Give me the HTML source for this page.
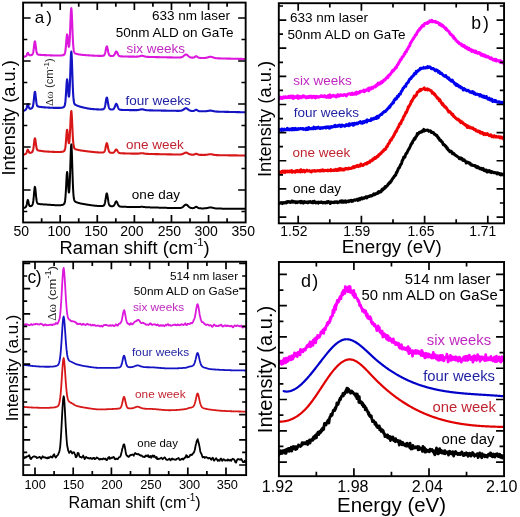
<!DOCTYPE html>
<html><head><meta charset="utf-8"><style>
html,body{margin:0;padding:0;background:#fff;}
svg{display:block;filter:blur(0.35px);}
text{font-family:"Liberation Sans", sans-serif;}
</style></head><body>
<svg width="520" height="517" viewBox="0 0 520 517">
<defs>
<clipPath id="ca"><rect x="23.1" y="2.6" width="222.55" height="219.85"/></clipPath>
<clipPath id="cb"><rect x="278.8" y="3.2" width="225.25" height="220.15"/></clipPath>
<clipPath id="cc"><rect x="23.2" y="261.75" width="222.95" height="213.35"/></clipPath>
<clipPath id="cd"><rect x="278.9" y="262" width="225.15" height="214.2"/></clipPath>
</defs>
<g clip-path="url(#ca)">
<polyline points="23.10,57.04 23.35,56.97 23.60,56.90 23.85,56.83 24.10,56.76 24.35,56.69 24.60,56.61 24.85,56.54 25.10,56.46 25.35,56.38 25.60,56.28 25.85,56.15 26.10,55.96 26.35,55.67 26.60,55.27 26.85,54.74 27.10,54.12 27.35,53.51 27.60,53.06 27.85,52.90 28.10,53.08 28.35,53.50 28.60,54.01 28.85,54.49 29.10,54.86 29.35,55.10 29.60,55.24 29.85,55.29 30.10,55.30 30.35,55.28 30.60,55.24 30.85,55.20 31.10,55.15 31.35,55.09 31.60,55.01 31.85,54.91 32.10,54.76 32.35,54.52 32.60,54.15 32.85,53.56 33.10,52.69 33.35,51.45 33.60,49.83 33.85,47.87 34.10,45.73 34.35,43.68 34.60,42.08 34.85,41.33 35.10,41.63 35.35,42.90 35.60,44.78 35.85,46.89 36.10,48.91 36.35,50.65 36.60,52.00 36.85,52.99 37.10,53.65 37.35,54.07 37.60,54.32 37.85,54.48 38.10,54.58 38.35,54.64 38.60,54.69 38.85,54.73 39.10,54.76 39.35,54.78 39.60,54.81 39.85,54.83 40.10,54.85 40.35,54.87 40.60,54.89 40.85,54.90 41.10,54.92 41.35,54.94 41.60,54.95 41.85,54.97 42.10,54.98 42.35,55.00 42.60,55.01 42.85,55.02 43.10,55.04 43.35,55.05 43.60,55.06 43.85,55.07 44.10,55.08 44.35,55.09 44.60,55.10 44.85,55.11 45.10,55.12 45.35,55.13 45.60,55.14 45.85,55.15 46.10,55.16 46.35,55.17 46.60,55.18 46.85,55.19 47.10,55.20 47.35,55.21 47.60,55.22 47.85,55.23 48.10,55.24 48.35,55.25 48.60,55.26 48.85,55.27 49.10,55.28 49.35,55.30 49.60,55.31 49.85,55.32 50.10,55.33 50.35,55.34 50.60,55.35 50.85,55.36 51.10,55.37 51.35,55.38 51.60,55.39 51.85,55.40 52.10,55.41 52.35,55.42 52.60,55.43 52.85,55.44 53.10,55.45 53.35,55.46 53.60,55.47 53.85,55.48 54.10,55.49 54.35,55.49 54.60,55.50 54.85,55.51 55.10,55.52 55.35,55.52 55.60,55.53 55.85,55.54 56.10,55.54 56.35,55.55 56.60,55.55 56.85,55.55 57.10,55.56 57.35,55.56 57.60,55.56 57.85,55.56 58.10,55.56 58.35,55.56 58.60,55.56 58.85,55.56 59.10,55.55 59.35,55.55 59.60,55.54 59.85,55.53 60.10,55.52 60.35,55.51 60.60,55.50 60.85,55.48 61.10,55.47 61.35,55.44 61.60,55.42 61.85,55.40 62.10,55.36 62.35,55.33 62.60,55.28 62.85,55.23 63.10,55.17 63.35,55.09 63.60,55.00 63.85,54.88 64.10,54.71 64.35,54.45 64.60,54.06 64.85,53.45 65.10,52.50 65.35,51.10 65.60,49.15 65.85,46.64 66.10,43.67 66.35,40.48 66.60,37.51 66.85,35.30 67.10,34.40 67.35,35.02 67.60,36.93 67.85,39.55 68.10,42.29 68.35,44.65 68.60,46.27 68.85,46.89 69.10,46.33 69.35,44.47 69.60,41.25 69.85,36.72 70.10,31.06 70.35,24.70 70.60,18.29 70.85,12.73 71.10,9.07 71.35,8.16 71.60,10.26 71.85,14.82 72.10,20.88 72.35,27.42 72.60,33.68 72.85,39.14 73.10,43.54 73.35,46.85 73.60,49.19 73.85,50.77 74.10,51.79 74.35,52.44 74.60,52.85 74.85,53.12 75.10,53.31 75.35,53.46 75.60,53.57 75.85,53.67 76.10,53.76 76.35,53.84 76.60,53.91 76.85,53.97 77.10,54.03 77.35,54.09 77.60,54.15 77.85,54.20 78.10,54.25 78.35,54.30 78.60,54.34 78.85,54.39 79.10,54.43 79.35,54.47 79.60,54.51 79.85,54.55 80.10,54.59 80.35,54.62 80.60,54.66 80.85,54.69 81.10,54.72 81.35,54.75 81.60,54.78 81.85,54.80 82.10,54.83 82.35,54.85 82.60,54.87 82.85,54.89 83.10,54.92 83.35,54.94 83.60,54.96 83.85,54.98 84.10,55.00 84.35,55.02 84.60,55.04 84.85,55.06 85.10,55.08 85.35,55.10 85.60,55.12 85.85,55.14 86.10,55.16 86.35,55.18 86.60,55.19 86.85,55.21 87.10,55.23 87.35,55.25 87.60,55.27 87.85,55.28 88.10,55.30 88.35,55.32 88.60,55.34 88.85,55.35 89.10,55.37 89.35,55.39 89.60,55.40 89.85,55.42 90.10,55.44 90.35,55.45 90.60,55.47 90.85,55.49 91.10,55.50 91.35,55.52 91.60,55.53 91.85,55.55 92.10,55.56 92.35,55.58 92.60,55.59 92.85,55.60 93.10,55.62 93.35,55.63 93.60,55.65 93.85,55.66 94.10,55.67 94.35,55.68 94.60,55.70 94.85,55.71 95.10,55.72 95.35,55.73 95.60,55.74 95.85,55.76 96.10,55.77 96.35,55.78 96.60,55.79 96.85,55.80 97.10,55.81 97.35,55.81 97.60,55.82 97.85,55.83 98.10,55.84 98.35,55.85 98.60,55.85 98.85,55.86 99.10,55.86 99.35,55.87 99.60,55.87 99.85,55.87 100.10,55.88 100.35,55.88 100.60,55.88 100.85,55.88 101.10,55.88 101.35,55.87 101.60,55.87 101.85,55.86 102.10,55.85 102.35,55.84 102.60,55.82 102.85,55.80 103.10,55.76 103.35,55.70 103.60,55.61 103.85,55.47 104.10,55.26 104.35,54.93 104.60,54.46 104.85,53.81 105.10,52.97 105.35,51.94 105.60,50.75 105.85,49.49 106.10,48.26 106.35,47.23 106.60,46.57 106.85,46.41 107.10,46.79 107.35,47.63 107.60,48.77 107.85,50.04 108.10,51.30 108.35,52.44 108.60,53.41 108.85,54.18 109.10,54.76 109.35,55.18 109.60,55.46 109.85,55.65 110.10,55.78 110.35,55.86 110.60,55.92 110.85,55.95 111.10,55.98 111.35,56.00 111.60,56.01 111.85,56.02 112.10,56.01 112.35,56.00 112.60,55.98 112.85,55.93 113.10,55.86 113.35,55.74 113.60,55.58 113.85,55.36 114.10,55.07 114.35,54.71 114.60,54.27 114.85,53.77 115.10,53.24 115.35,52.70 115.60,52.21 115.85,51.81 116.10,51.56 116.35,51.51 116.60,51.65 116.85,51.98 117.10,52.44 117.35,52.98 117.60,53.53 117.85,54.07 118.10,54.56 118.35,54.99 118.60,55.34 118.85,55.62 119.10,55.83 119.35,55.99 119.60,56.10 119.85,56.18 120.10,56.24 120.35,56.28 120.60,56.31 120.85,56.34 121.10,56.36 121.35,56.37 121.60,56.39 121.85,56.40 122.10,56.41 122.35,56.42 122.60,56.43 122.85,56.44 123.10,56.45 123.35,56.46 123.60,56.47 123.85,56.48 124.10,56.48 124.35,56.49 124.60,56.50 124.85,56.50 125.10,56.51 125.35,56.52 125.60,56.52 125.85,56.53 126.10,56.53 126.35,56.54 126.60,56.55 126.85,56.55 127.10,56.56 127.35,56.56 127.60,56.57 127.85,56.57 128.10,56.58 128.35,56.58 128.60,56.59 128.85,56.59 129.10,56.60 129.35,56.60 129.60,56.60 129.85,56.61 130.10,56.61 130.35,56.62 130.60,56.62 130.85,56.63 131.10,56.63 131.35,56.63 131.60,56.64 131.85,56.64 132.10,56.65 132.35,56.65 132.60,56.65 132.85,56.66 133.10,56.66 133.35,56.66 133.60,56.67 133.85,56.67 134.10,56.67 134.35,56.67 134.60,56.68 134.85,56.68 135.10,56.68 135.35,56.68 135.60,56.68 135.85,56.68 136.10,56.68 136.35,56.67 136.60,56.66 136.85,56.65 137.10,56.64 137.35,56.62 137.60,56.60 137.85,56.58 138.10,56.55 138.35,56.51 138.60,56.47 138.85,56.42 139.10,56.37 139.35,56.31 139.60,56.25 139.85,56.18 140.10,56.12 140.35,56.05 140.60,55.99 140.85,55.93 141.10,55.88 141.35,55.84 141.60,55.81 141.85,55.80 142.10,55.80 142.35,55.82 142.60,55.86 142.85,55.90 143.10,55.96 143.35,56.02 143.60,56.10 143.85,56.17 144.10,56.24 144.35,56.32 144.60,56.39 144.85,56.46 145.10,56.52 145.35,56.58 145.60,56.63 145.85,56.68 146.10,56.72 146.35,56.75 146.60,56.79 146.85,56.81 147.10,56.84 147.35,56.85 147.60,56.87 147.85,56.89 148.10,56.90 148.35,56.91 148.60,56.92 148.85,56.93 149.10,56.94 149.35,56.94 149.60,56.95 149.85,56.96 150.10,56.97 150.35,56.97 150.60,56.98 150.85,56.98 151.10,56.99 151.35,57.00 151.60,57.00 151.85,57.01 152.10,57.01 152.35,57.02 152.60,57.03 152.85,57.03 153.10,57.04 153.35,57.04 153.60,57.05 153.85,57.05 154.10,57.06 154.35,57.06 154.60,57.07 154.85,57.08 155.10,57.08 155.35,57.09 155.60,57.09 155.85,57.10 156.10,57.10 156.35,57.11 156.60,57.11 156.85,57.12 157.10,57.12 157.35,57.13 157.60,57.13 157.85,57.14 158.10,57.14 158.35,57.15 158.60,57.16 158.85,57.16 159.10,57.17 159.35,57.17 159.60,57.18 159.85,57.18 160.10,57.19 160.35,57.19 160.60,57.20 160.85,57.20 161.10,57.21 161.35,57.21 161.60,57.22 161.85,57.22 162.10,57.23 162.35,57.23 162.60,57.24 162.85,57.24 163.10,57.25 163.35,57.25 163.60,57.26 163.85,57.26 164.10,57.27 164.35,57.27 164.60,57.28 164.85,57.28 165.10,57.29 165.35,57.29 165.60,57.30 165.85,57.30 166.10,57.31 166.35,57.31 166.60,57.32 166.85,57.32 167.10,57.33 167.35,57.33 167.60,57.34 167.85,57.34 168.10,57.35 168.35,57.35 168.60,57.35 168.85,57.36 169.10,57.36 169.35,57.37 169.60,57.37 169.85,57.38 170.10,57.38 170.35,57.39 170.60,57.39 170.85,57.40 171.10,57.40 171.35,57.41 171.60,57.41 171.85,57.41 172.10,57.42 172.35,57.42 172.60,57.43 172.85,57.43 173.10,57.44 173.35,57.44 173.60,57.44 173.85,57.45 174.10,57.45 174.35,57.45 174.60,57.46 174.85,57.46 175.10,57.46 175.35,57.47 175.60,57.47 175.85,57.47 176.10,57.48 176.35,57.48 176.60,57.48 176.85,57.48 177.10,57.49 177.35,57.49 177.60,57.49 177.85,57.49 178.10,57.49 178.35,57.49 178.60,57.49 178.85,57.49 179.10,57.48 179.35,57.47 179.60,57.46 179.85,57.45 180.10,57.43 180.35,57.41 180.60,57.38 180.85,57.34 181.10,57.29 181.35,57.23 181.60,57.16 181.85,57.07 182.10,56.97 182.35,56.84 182.60,56.70 182.85,56.55 183.10,56.37 183.35,56.18 183.60,55.98 183.85,55.77 184.10,55.56 184.35,55.34 184.60,55.14 184.85,54.95 185.10,54.78 185.35,54.65 185.60,54.56 185.85,54.51 186.10,54.51 186.35,54.55 186.60,54.65 186.85,54.79 187.10,54.95 187.35,55.15 187.60,55.36 187.85,55.58 188.10,55.81 188.35,56.03 188.60,56.24 188.85,56.44 189.10,56.63 189.35,56.80 189.60,56.95 189.85,57.08 190.10,57.20 190.35,57.30 190.60,57.38 190.85,57.45 191.10,57.51 191.35,57.56 191.60,57.59 191.85,57.62 192.10,57.64 192.35,57.66 192.60,57.66 192.85,57.65 193.10,57.63 193.35,57.60 193.60,57.54 193.85,57.46 194.10,57.35 194.35,57.22 194.60,57.07 194.85,56.89 195.10,56.71 195.35,56.53 195.60,56.37 195.85,56.26 196.10,56.20 196.35,56.22 196.60,56.30 196.85,56.44 197.10,56.62 197.35,56.81 197.60,57.01 197.85,57.19 198.10,57.36 198.35,57.50 198.60,57.62 198.85,57.71 199.10,57.78 199.35,57.83 199.60,57.87 199.85,57.89 200.10,57.91 200.35,57.93 200.60,57.94 200.85,57.95 201.10,57.96 201.35,57.97 201.60,57.97 201.85,57.98 202.10,57.98 202.35,57.99 202.60,57.99 202.85,57.99 203.10,57.99 203.35,57.99 203.60,57.99 203.85,57.98 204.10,57.98 204.35,57.97 204.60,57.95 204.85,57.93 205.10,57.91 205.35,57.89 205.60,57.86 205.85,57.82 206.10,57.78 206.35,57.73 206.60,57.68 206.85,57.62 207.10,57.56 207.35,57.49 207.60,57.42 207.85,57.35 208.10,57.27 208.35,57.20 208.60,57.12 208.85,57.05 209.10,56.98 209.35,56.92 209.60,56.87 209.85,56.84 210.10,56.81 210.35,56.80 210.60,56.80 210.85,56.82 211.10,56.86 211.35,56.90 211.60,56.96 211.85,57.03 212.10,57.11 212.35,57.19 212.60,57.28 212.85,57.36 213.10,57.45 213.35,57.54 213.60,57.62 213.85,57.70 214.10,57.77 214.35,57.84 214.60,57.91 214.85,57.97 215.10,58.02 215.35,58.07 215.60,58.11 215.85,58.15 216.10,58.19 216.35,58.22 216.60,58.24 216.85,58.26 217.10,58.28 217.35,58.30 217.60,58.32 217.85,58.33 218.10,58.34 218.35,58.36 218.60,58.37 218.85,58.38 219.10,58.38 219.35,58.39 219.60,58.40 219.85,58.41 220.10,58.42 220.35,58.42 220.60,58.43 220.85,58.44 221.10,58.44 221.35,58.45 221.60,58.46 221.85,58.46 222.10,58.47 222.35,58.48 222.60,58.48 222.85,58.49 223.10,58.49 223.35,58.50 223.60,58.51 223.85,58.51 224.10,58.52 224.35,58.52 224.60,58.53 224.85,58.54 225.10,58.54 225.35,58.55 225.60,58.55 225.85,58.56 226.10,58.57 226.35,58.57 226.60,58.58 226.85,58.58 227.10,58.59 227.35,58.59 227.60,58.60 227.85,58.61 228.10,58.61 228.35,58.62 228.60,58.62 228.85,58.63 229.10,58.63 229.35,58.64 229.60,58.65 229.85,58.65 230.10,58.66 230.35,58.66 230.60,58.67 230.85,58.67 231.10,58.68 231.35,58.68 231.60,58.69 231.85,58.70 232.10,58.70 232.35,58.71 232.60,58.71 232.85,58.72 233.10,58.72 233.35,58.73 233.60,58.73 233.85,58.74 234.10,58.74 234.35,58.75 234.60,58.76 234.85,58.76 235.10,58.77 235.35,58.77 235.60,58.78 235.85,58.78 236.10,58.79 236.35,58.79 236.60,58.80 236.85,58.81 237.10,58.81 237.35,58.82 237.60,58.82 237.85,58.83 238.10,58.83 238.35,58.84 238.60,58.84 238.85,58.85 239.10,58.85 239.35,58.86 239.60,58.87 239.85,58.87 240.10,58.88 240.35,58.88 240.60,58.89 240.85,58.89 241.10,58.90 241.35,58.90 241.60,58.91 241.85,58.91 242.10,58.92 242.35,58.93 242.60,58.93 242.85,58.94 243.10,58.94 243.35,58.95 243.60,58.95 243.85,58.96 244.10,58.96 244.35,58.97 244.60,58.97 244.85,58.98 245.10,58.99 245.35,58.99 245.60,59.00" fill="none" stroke="#DC18DC" stroke-width="2.1" stroke-linejoin="round" stroke-linecap="round"/>
<polyline points="23.10,111.09 23.35,110.97 23.60,110.84 23.85,110.72 24.10,110.59 24.35,110.47 24.60,110.34 24.85,110.22 25.10,110.09 25.35,109.95 25.60,109.79 25.85,109.57 26.10,109.25 26.35,108.76 26.60,108.07 26.85,107.15 27.10,106.08 27.35,105.03 27.60,104.25 27.85,104.00 28.10,104.38 28.35,105.20 28.60,106.17 28.85,107.08 29.10,107.80 29.35,108.29 29.60,108.57 29.85,108.70 30.10,108.75 30.35,108.73 30.60,108.69 30.85,108.63 31.10,108.55 31.35,108.45 31.60,108.33 31.85,108.16 32.10,107.94 32.35,107.62 32.60,107.13 32.85,106.39 33.10,105.32 33.35,103.83 33.60,101.89 33.85,99.57 34.10,97.03 34.35,94.59 34.60,92.68 34.85,91.74 35.10,92.03 35.35,93.42 35.60,95.54 35.85,97.91 36.10,100.19 36.35,102.14 36.60,103.66 36.85,104.76 37.10,105.49 37.35,105.95 37.60,106.22 37.85,106.40 38.10,106.51 38.35,106.58 38.60,106.64 38.85,106.69 39.10,106.73 39.35,106.77 39.60,106.80 39.85,106.84 40.10,106.87 40.35,106.91 40.60,106.94 40.85,106.97 41.10,107.00 41.35,107.03 41.60,107.06 41.85,107.10 42.10,107.13 42.35,107.15 42.60,107.18 42.85,107.21 43.10,107.24 43.35,107.26 43.60,107.29 43.85,107.31 44.10,107.34 44.35,107.36 44.60,107.38 44.85,107.39 45.10,107.41 45.35,107.42 45.60,107.44 45.85,107.45 46.10,107.47 46.35,107.48 46.60,107.50 46.85,107.51 47.10,107.53 47.35,107.54 47.60,107.55 47.85,107.57 48.10,107.58 48.35,107.60 48.60,107.61 48.85,107.62 49.10,107.64 49.35,107.65 49.60,107.66 49.85,107.68 50.10,107.69 50.35,107.70 50.60,107.71 50.85,107.73 51.10,107.74 51.35,107.75 51.60,107.76 51.85,107.77 52.10,107.78 52.35,107.80 52.60,107.81 52.85,107.82 53.10,107.83 53.35,107.84 53.60,107.84 53.85,107.85 54.10,107.86 54.35,107.87 54.60,107.88 54.85,107.88 55.10,107.89 55.35,107.90 55.60,107.90 55.85,107.91 56.10,107.91 56.35,107.91 56.60,107.92 56.85,107.92 57.10,107.92 57.35,107.92 57.60,107.92 57.85,107.92 58.10,107.92 58.35,107.92 58.60,107.91 58.85,107.91 59.10,107.90 59.35,107.89 59.60,107.88 59.85,107.87 60.10,107.86 60.35,107.84 60.60,107.82 60.85,107.80 61.10,107.78 61.35,107.75 61.60,107.72 61.85,107.69 62.10,107.65 62.35,107.60 62.60,107.54 62.85,107.47 63.10,107.38 63.35,107.28 63.60,107.15 63.85,106.98 64.10,106.75 64.35,106.41 64.60,105.88 64.85,105.05 65.10,103.77 65.35,101.88 65.60,99.26 65.85,95.87 66.10,91.87 66.35,87.58 66.60,83.58 66.85,80.61 67.10,79.40 67.35,80.25 67.60,82.82 67.85,86.37 68.10,90.10 68.35,93.35 68.60,95.65 68.85,96.68 69.10,96.22 69.35,94.16 69.60,90.46 69.85,85.16 70.10,78.53 70.35,71.05 70.60,63.51 70.85,56.96 71.10,52.65 71.35,51.57 71.60,54.03 71.85,59.38 72.10,66.50 72.35,74.19 72.60,81.54 72.85,87.95 73.10,93.11 73.35,97.00 73.60,99.75 73.85,101.61 74.10,102.80 74.35,103.56 74.60,104.05 74.85,104.36 75.10,104.59 75.35,104.76 75.60,104.91 75.85,105.04 76.10,105.15 76.35,105.26 76.60,105.37 76.85,105.47 77.10,105.57 77.35,105.66 77.60,105.76 77.85,105.85 78.10,105.95 78.35,106.04 78.60,106.13 78.85,106.22 79.10,106.31 79.35,106.39 79.60,106.48 79.85,106.56 80.10,106.65 80.35,106.73 80.60,106.80 80.85,106.88 81.10,106.95 81.35,107.02 81.60,107.08 81.85,107.14 82.10,107.20 82.35,107.26 82.60,107.31 82.85,107.37 83.10,107.43 83.35,107.48 83.60,107.54 83.85,107.60 84.10,107.65 84.35,107.71 84.60,107.77 84.85,107.82 85.10,107.88 85.35,107.93 85.60,107.99 85.85,108.04 86.10,108.09 86.35,108.15 86.60,108.20 86.85,108.25 87.10,108.30 87.35,108.35 87.60,108.40 87.85,108.44 88.10,108.49 88.35,108.53 88.60,108.58 88.85,108.62 89.10,108.66 89.35,108.70 89.60,108.73 89.85,108.77 90.10,108.80 90.35,108.83 90.60,108.86 90.85,108.89 91.10,108.92 91.35,108.94 91.60,108.97 91.85,108.99 92.10,109.01 92.35,109.04 92.60,109.06 92.85,109.08 93.10,109.10 93.35,109.12 93.60,109.14 93.85,109.16 94.10,109.18 94.35,109.20 94.60,109.22 94.85,109.24 95.10,109.25 95.35,109.27 95.60,109.29 95.85,109.30 96.10,109.32 96.35,109.33 96.60,109.35 96.85,109.36 97.10,109.37 97.35,109.38 97.60,109.39 97.85,109.40 98.10,109.41 98.35,109.42 98.60,109.43 98.85,109.43 99.10,109.44 99.35,109.44 99.60,109.44 99.85,109.44 100.10,109.45 100.35,109.44 100.60,109.44 100.85,109.44 101.10,109.43 101.35,109.43 101.60,109.42 101.85,109.41 102.10,109.40 102.35,109.38 102.60,109.35 102.85,109.32 103.10,109.27 103.35,109.20 103.60,109.08 103.85,108.90 104.10,108.63 104.35,108.22 104.60,107.63 104.85,106.81 105.10,105.76 105.35,104.46 105.60,102.97 105.85,101.38 106.10,99.84 106.35,98.55 106.60,97.72 106.85,97.51 107.10,97.99 107.35,99.04 107.60,100.47 107.85,102.05 108.10,103.63 108.35,105.06 108.60,106.27 108.85,107.23 109.10,107.96 109.35,108.48 109.60,108.84 109.85,109.07 110.10,109.23 110.35,109.33 110.60,109.40 110.85,109.44 111.10,109.47 111.35,109.49 111.60,109.50 111.85,109.51 112.10,109.50 112.35,109.49 112.60,109.45 112.85,109.39 113.10,109.29 113.35,109.15 113.60,108.95 113.85,108.67 114.10,108.30 114.35,107.84 114.60,107.29 114.85,106.67 115.10,105.99 115.35,105.32 115.60,104.69 115.85,104.19 116.10,103.88 116.35,103.81 116.60,103.99 116.85,104.40 117.10,104.97 117.35,105.64 117.60,106.34 117.85,107.01 118.10,107.62 118.35,108.15 118.60,108.59 118.85,108.94 119.10,109.20 119.35,109.40 119.60,109.54 119.85,109.64 120.10,109.71 120.35,109.76 120.60,109.80 120.85,109.83 121.10,109.85 121.35,109.87 121.60,109.88 121.85,109.90 122.10,109.91 122.35,109.92 122.60,109.93 122.85,109.94 123.10,109.95 123.35,109.96 123.60,109.96 123.85,109.97 124.10,109.98 124.35,109.99 124.60,109.99 124.85,110.00 125.10,110.00 125.35,110.01 125.60,110.02 125.85,110.02 126.10,110.03 126.35,110.03 126.60,110.04 126.85,110.04 127.10,110.04 127.35,110.05 127.60,110.05 127.85,110.06 128.10,110.06 128.35,110.06 128.60,110.07 128.85,110.07 129.10,110.08 129.35,110.08 129.60,110.08 129.85,110.09 130.10,110.09 130.35,110.09 130.60,110.10 130.85,110.10 131.10,110.10 131.35,110.11 131.60,110.11 131.85,110.11 132.10,110.11 132.35,110.12 132.60,110.12 132.85,110.12 133.10,110.12 133.35,110.13 133.60,110.13 133.85,110.13 134.10,110.13 134.35,110.13 134.60,110.14 134.85,110.14 135.10,110.14 135.35,110.14 135.60,110.14 135.85,110.13 136.10,110.13 136.35,110.12 136.60,110.12 136.85,110.11 137.10,110.09 137.35,110.08 137.60,110.06 137.85,110.03 138.10,110.00 138.35,109.97 138.60,109.93 138.85,109.89 139.10,109.84 139.35,109.78 139.60,109.72 139.85,109.66 140.10,109.60 140.35,109.54 140.60,109.48 140.85,109.42 141.10,109.38 141.35,109.34 141.60,109.31 141.85,109.30 142.10,109.30 142.35,109.32 142.60,109.35 142.85,109.39 143.10,109.44 143.35,109.51 143.60,109.57 143.85,109.64 144.10,109.71 144.35,109.78 144.60,109.84 144.85,109.90 145.10,109.96 145.35,110.02 145.60,110.06 145.85,110.11 146.10,110.14 146.35,110.18 146.60,110.20 146.85,110.23 147.10,110.25 147.35,110.27 147.60,110.28 147.85,110.30 148.10,110.31 148.35,110.32 148.60,110.32 148.85,110.33 149.10,110.34 149.35,110.35 149.60,110.35 149.85,110.36 150.10,110.37 150.35,110.37 150.60,110.38 150.85,110.38 151.10,110.39 151.35,110.39 151.60,110.40 151.85,110.40 152.10,110.41 152.35,110.41 152.60,110.42 152.85,110.42 153.10,110.43 153.35,110.43 153.60,110.44 153.85,110.44 154.10,110.45 154.35,110.45 154.60,110.46 154.85,110.46 155.10,110.47 155.35,110.47 155.60,110.48 155.85,110.48 156.10,110.49 156.35,110.49 156.60,110.50 156.85,110.50 157.10,110.50 157.35,110.51 157.60,110.51 157.85,110.52 158.10,110.52 158.35,110.53 158.60,110.53 158.85,110.54 159.10,110.54 159.35,110.55 159.60,110.55 159.85,110.56 160.10,110.56 160.35,110.56 160.60,110.57 160.85,110.57 161.10,110.58 161.35,110.58 161.60,110.59 161.85,110.59 162.10,110.60 162.35,110.60 162.60,110.60 162.85,110.61 163.10,110.61 163.35,110.62 163.60,110.62 163.85,110.63 164.10,110.63 164.35,110.64 164.60,110.64 164.85,110.64 165.10,110.65 165.35,110.65 165.60,110.66 165.85,110.66 166.10,110.67 166.35,110.67 166.60,110.68 166.85,110.68 167.10,110.68 167.35,110.69 167.60,110.69 167.85,110.70 168.10,110.70 168.35,110.71 168.60,110.71 168.85,110.71 169.10,110.72 169.35,110.72 169.60,110.73 169.85,110.73 170.10,110.73 170.35,110.74 170.60,110.74 170.85,110.75 171.10,110.75 171.35,110.76 171.60,110.76 171.85,110.76 172.10,110.77 172.35,110.77 172.60,110.77 172.85,110.78 173.10,110.78 173.35,110.79 173.60,110.79 173.85,110.79 174.10,110.80 174.35,110.80 174.60,110.80 174.85,110.81 175.10,110.81 175.35,110.81 175.60,110.82 175.85,110.82 176.10,110.82 176.35,110.82 176.60,110.83 176.85,110.83 177.10,110.83 177.35,110.83 177.60,110.83 177.85,110.83 178.10,110.83 178.35,110.83 178.60,110.83 178.85,110.83 179.10,110.83 179.35,110.82 179.60,110.81 179.85,110.80 180.10,110.79 180.35,110.76 180.60,110.74 180.85,110.70 181.10,110.66 181.35,110.61 181.60,110.54 181.85,110.47 182.10,110.37 182.35,110.27 182.60,110.14 182.85,110.00 183.10,109.85 183.35,109.68 183.60,109.51 183.85,109.32 184.10,109.13 184.35,108.94 184.60,108.76 184.85,108.59 185.10,108.45 185.35,108.33 185.60,108.25 185.85,108.21 186.10,108.21 186.35,108.25 186.60,108.33 186.85,108.45 187.10,108.60 187.35,108.77 187.60,108.96 187.85,109.16 188.10,109.36 188.35,109.55 188.60,109.74 188.85,109.92 189.10,110.08 189.35,110.23 189.60,110.37 189.85,110.49 190.10,110.59 190.35,110.68 190.60,110.75 190.85,110.81 191.10,110.87 191.35,110.91 191.60,110.94 191.85,110.97 192.10,110.99 192.35,111.00 192.60,111.00 192.85,111.00 193.10,110.98 193.35,110.95 193.60,110.91 193.85,110.84 194.10,110.75 194.35,110.65 194.60,110.52 194.85,110.37 195.10,110.22 195.35,110.07 195.60,109.94 195.85,109.85 196.10,109.80 196.35,109.81 196.60,109.88 196.85,110.00 197.10,110.15 197.35,110.31 197.60,110.48 197.85,110.63 198.10,110.77 198.35,110.89 198.60,110.99 198.85,111.06 199.10,111.12 199.35,111.17 199.60,111.20 199.85,111.22 200.10,111.24 200.35,111.25 200.60,111.27 200.85,111.27 201.10,111.28 201.35,111.29 201.60,111.30 201.85,111.30 202.10,111.31 202.35,111.31 202.60,111.32 202.85,111.32 203.10,111.32 203.35,111.32 203.60,111.32 203.85,111.32 204.10,111.32 204.35,111.31 204.60,111.31 204.85,111.30 205.10,111.28 205.35,111.27 205.60,111.25 205.85,111.23 206.10,111.21 206.35,111.18 206.60,111.14 206.85,111.11 207.10,111.07 207.35,111.03 207.60,110.98 207.85,110.94 208.10,110.89 208.35,110.84 208.60,110.80 208.85,110.75 209.10,110.71 209.35,110.67 209.60,110.64 209.85,110.62 210.10,110.60 210.35,110.60 210.60,110.60 210.85,110.62 211.10,110.64 211.35,110.67 211.60,110.71 211.85,110.76 212.10,110.81 212.35,110.87 212.60,110.92 212.85,110.98 213.10,111.04 213.35,111.10 213.60,111.15 213.85,111.21 214.10,111.26 214.35,111.31 214.60,111.35 214.85,111.39 215.10,111.43 215.35,111.46 215.60,111.49 215.85,111.52 216.10,111.54 216.35,111.56 216.60,111.58 216.85,111.60 217.10,111.61 217.35,111.63 217.60,111.64 217.85,111.65 218.10,111.66 218.35,111.67 218.60,111.68 218.85,111.68 219.10,111.69 219.35,111.70 219.60,111.71 219.85,111.71 220.10,111.72 220.35,111.73 220.60,111.73 220.85,111.74 221.10,111.74 221.35,111.75 221.60,111.76 221.85,111.76 222.10,111.77 222.35,111.77 222.60,111.78 222.85,111.79 223.10,111.79 223.35,111.80 223.60,111.80 223.85,111.81 224.10,111.82 224.35,111.82 224.60,111.83 224.85,111.83 225.10,111.84 225.35,111.84 225.60,111.85 225.85,111.86 226.10,111.86 226.35,111.87 226.60,111.87 226.85,111.88 227.10,111.88 227.35,111.89 227.60,111.89 227.85,111.90 228.10,111.91 228.35,111.91 228.60,111.92 228.85,111.92 229.10,111.93 229.35,111.93 229.60,111.94 229.85,111.95 230.10,111.95 230.35,111.96 230.60,111.96 230.85,111.97 231.10,111.97 231.35,111.98 231.60,111.98 231.85,111.99 232.10,112.00 232.35,112.00 232.60,112.01 232.85,112.01 233.10,112.02 233.35,112.02 233.60,112.03 233.85,112.03 234.10,112.04 234.35,112.05 234.60,112.05 234.85,112.06 235.10,112.06 235.35,112.07 235.60,112.07 235.85,112.08 236.10,112.08 236.35,112.09 236.60,112.10 236.85,112.10 237.10,112.11 237.35,112.11 237.60,112.12 237.85,112.12 238.10,112.13 238.35,112.13 238.60,112.14 238.85,112.15 239.10,112.15 239.35,112.16 239.60,112.16 239.85,112.17 240.10,112.17 240.35,112.18 240.60,112.18 240.85,112.19 241.10,112.20 241.35,112.20 241.60,112.21 241.85,112.21 242.10,112.22 242.35,112.22 242.60,112.23 242.85,112.24 243.10,112.24 243.35,112.25 243.60,112.25 243.85,112.26 244.10,112.26 244.35,112.27 244.60,112.27 244.85,112.28 245.10,112.29 245.35,112.29 245.60,112.30" fill="none" stroke="#1414C4" stroke-width="2.1" stroke-linejoin="round" stroke-linecap="round"/>
<polyline points="23.10,154.87 23.35,154.78 23.60,154.68 23.85,154.58 24.10,154.49 24.35,154.39 24.60,154.30 24.85,154.20 25.10,154.10 25.35,153.99 25.60,153.87 25.85,153.70 26.10,153.46 26.35,153.11 26.60,152.61 26.85,151.95 27.10,151.19 27.35,150.44 27.60,149.88 27.85,149.70 28.10,149.95 28.35,150.50 28.60,151.17 28.85,151.79 29.10,152.27 29.35,152.59 29.60,152.77 29.85,152.85 30.10,152.86 30.35,152.83 30.60,152.78 30.85,152.72 31.10,152.64 31.35,152.54 31.60,152.42 31.85,152.26 32.10,152.06 32.35,151.77 32.60,151.34 32.85,150.70 33.10,149.79 33.35,148.53 33.60,146.89 33.85,144.94 34.10,142.80 34.35,140.76 34.60,139.14 34.85,138.34 35.10,138.55 35.35,139.69 35.60,141.41 35.85,143.36 36.10,145.23 36.35,146.83 36.60,148.08 36.85,148.97 37.10,149.57 37.35,149.94 37.60,150.16 37.85,150.30 38.10,150.39 38.35,150.46 38.60,150.51 38.85,150.55 39.10,150.60 39.35,150.64 39.60,150.67 39.85,150.71 40.10,150.75 40.35,150.79 40.60,150.83 40.85,150.87 41.10,150.91 41.35,150.95 41.60,150.99 41.85,151.03 42.10,151.07 42.35,151.11 42.60,151.15 42.85,151.18 43.10,151.22 43.35,151.25 43.60,151.29 43.85,151.32 44.10,151.34 44.35,151.37 44.60,151.39 44.85,151.41 45.10,151.43 45.35,151.45 45.60,151.46 45.85,151.48 46.10,151.50 46.35,151.51 46.60,151.53 46.85,151.54 47.10,151.56 47.35,151.57 47.60,151.59 47.85,151.60 48.10,151.62 48.35,151.63 48.60,151.65 48.85,151.66 49.10,151.68 49.35,151.69 49.60,151.71 49.85,151.72 50.10,151.73 50.35,151.75 50.60,151.76 50.85,151.77 51.10,151.78 51.35,151.80 51.60,151.81 51.85,151.82 52.10,151.83 52.35,151.84 52.60,151.85 52.85,151.86 53.10,151.87 53.35,151.88 53.60,151.89 53.85,151.90 54.10,151.91 54.35,151.92 54.60,151.93 54.85,151.93 55.10,151.94 55.35,151.95 55.60,151.95 55.85,151.96 56.10,151.96 56.35,151.97 56.60,151.97 56.85,151.97 57.10,151.98 57.35,151.98 57.60,151.98 57.85,151.98 58.10,151.98 58.35,151.98 58.60,151.98 58.85,151.97 59.10,151.97 59.35,151.96 59.60,151.96 59.85,151.95 60.10,151.94 60.35,151.93 60.60,151.92 60.85,151.90 61.10,151.88 61.35,151.86 61.60,151.84 61.85,151.81 62.10,151.78 62.35,151.75 62.60,151.70 62.85,151.64 63.10,151.57 63.35,151.49 63.60,151.38 63.85,151.25 64.10,151.06 64.35,150.79 64.60,150.37 64.85,149.71 65.10,148.71 65.35,147.24 65.60,145.19 65.85,142.55 66.10,139.42 66.35,136.08 66.60,132.96 66.85,130.65 67.10,129.70 67.35,130.35 67.60,132.35 67.85,135.11 68.10,138.02 68.35,140.57 68.60,142.40 68.85,143.27 69.10,143.03 69.35,141.61 69.60,138.98 69.85,135.20 70.10,130.44 70.35,125.07 70.60,119.64 70.85,114.94 71.10,111.83 71.35,111.05 71.60,112.80 71.85,116.63 72.10,121.72 72.35,127.23 72.60,132.50 72.85,137.08 73.10,140.78 73.35,143.56 73.60,145.53 73.85,146.85 74.10,147.71 74.35,148.25 74.60,148.59 74.85,148.82 75.10,148.98 75.35,149.10 75.60,149.21 75.85,149.30 76.10,149.38 76.35,149.45 76.60,149.52 76.85,149.59 77.10,149.65 77.35,149.71 77.60,149.78 77.85,149.83 78.10,149.89 78.35,149.95 78.60,150.01 78.85,150.06 79.10,150.12 79.35,150.17 79.60,150.22 79.85,150.27 80.10,150.32 80.35,150.37 80.60,150.42 80.85,150.46 81.10,150.50 81.35,150.54 81.60,150.58 81.85,150.62 82.10,150.65 82.35,150.69 82.60,150.72 82.85,150.75 83.10,150.78 83.35,150.82 83.60,150.85 83.85,150.88 84.10,150.91 84.35,150.95 84.60,150.98 84.85,151.01 85.10,151.04 85.35,151.08 85.60,151.11 85.85,151.14 86.10,151.17 86.35,151.20 86.60,151.23 86.85,151.27 87.10,151.30 87.35,151.33 87.60,151.36 87.85,151.39 88.10,151.42 88.35,151.45 88.60,151.48 88.85,151.51 89.10,151.54 89.35,151.57 89.60,151.60 89.85,151.63 90.10,151.66 90.35,151.69 90.60,151.72 90.85,151.75 91.10,151.78 91.35,151.80 91.60,151.83 91.85,151.86 92.10,151.89 92.35,151.91 92.60,151.94 92.85,151.97 93.10,151.99 93.35,152.02 93.60,152.04 93.85,152.07 94.10,152.09 94.35,152.12 94.60,152.14 94.85,152.16 95.10,152.18 95.35,152.20 95.60,152.23 95.85,152.25 96.10,152.27 96.35,152.29 96.60,152.30 96.85,152.32 97.10,152.34 97.35,152.36 97.60,152.37 97.85,152.39 98.10,152.40 98.35,152.42 98.60,152.43 98.85,152.44 99.10,152.45 99.35,152.46 99.60,152.47 99.85,152.48 100.10,152.48 100.35,152.49 100.60,152.49 100.85,152.50 101.10,152.50 101.35,152.50 101.60,152.50 101.85,152.50 102.10,152.49 102.35,152.48 102.60,152.47 102.85,152.45 103.10,152.42 103.35,152.37 103.60,152.28 103.85,152.15 104.10,151.93 104.35,151.61 104.60,151.15 104.85,150.52 105.10,149.69 105.35,148.67 105.60,147.50 105.85,146.25 106.10,145.04 106.35,144.02 106.60,143.37 106.85,143.21 107.10,143.60 107.35,144.43 107.60,145.56 107.85,146.82 108.10,148.07 108.35,149.21 108.60,150.17 108.85,150.94 109.10,151.52 109.35,151.94 109.60,152.23 109.85,152.42 110.10,152.55 110.35,152.64 110.60,152.69 110.85,152.74 111.10,152.77 111.35,152.79 111.60,152.81 111.85,152.82 112.10,152.83 112.35,152.82 112.60,152.81 112.85,152.78 113.10,152.73 113.35,152.65 113.60,152.54 113.85,152.38 114.10,152.16 114.35,151.89 114.60,151.57 114.85,151.19 115.10,150.79 115.35,150.39 115.60,150.02 115.85,149.72 116.10,149.54 116.35,149.51 116.60,149.62 116.85,149.88 117.10,150.23 117.35,150.64 117.60,151.06 117.85,151.47 118.10,151.85 118.35,152.17 118.60,152.44 118.85,152.66 119.10,152.82 119.35,152.95 119.60,153.04 119.85,153.10 120.10,153.15 120.35,153.19 120.60,153.21 120.85,153.24 121.10,153.25 121.35,153.27 121.60,153.28 121.85,153.30 122.10,153.31 122.35,153.32 122.60,153.33 122.85,153.34 123.10,153.35 123.35,153.36 123.60,153.37 123.85,153.38 124.10,153.39 124.35,153.40 124.60,153.41 124.85,153.41 125.10,153.42 125.35,153.43 125.60,153.44 125.85,153.45 126.10,153.45 126.35,153.46 126.60,153.47 126.85,153.47 127.10,153.48 127.35,153.49 127.60,153.50 127.85,153.50 128.10,153.51 128.35,153.51 128.60,153.52 128.85,153.53 129.10,153.53 129.35,153.54 129.60,153.55 129.85,153.55 130.10,153.56 130.35,153.56 130.60,153.57 130.85,153.58 131.10,153.58 131.35,153.59 131.60,153.59 131.85,153.60 132.10,153.60 132.35,153.61 132.60,153.61 132.85,153.62 133.10,153.62 133.35,153.63 133.60,153.63 133.85,153.64 134.10,153.64 134.35,153.65 134.60,153.65 134.85,153.66 135.10,153.66 135.35,153.66 135.60,153.67 135.85,153.67 136.10,153.67 136.35,153.67 136.60,153.67 136.85,153.66 137.10,153.66 137.35,153.65 137.60,153.64 137.85,153.63 138.10,153.61 138.35,153.59 138.60,153.57 138.85,153.54 139.10,153.51 139.35,153.48 139.60,153.45 139.85,153.41 140.10,153.37 140.35,153.34 140.60,153.30 140.85,153.27 141.10,153.24 141.35,153.22 141.60,153.20 141.85,153.20 142.10,153.20 142.35,153.22 142.60,153.24 142.85,153.27 143.10,153.31 143.35,153.35 143.60,153.39 143.85,153.44 144.10,153.49 144.35,153.54 144.60,153.58 144.85,153.62 145.10,153.67 145.35,153.70 145.60,153.74 145.85,153.77 146.10,153.79 146.35,153.82 146.60,153.84 146.85,153.86 147.10,153.87 147.35,153.89 147.60,153.90 147.85,153.91 148.10,153.92 148.35,153.93 148.60,153.94 148.85,153.94 149.10,153.95 149.35,153.96 149.60,153.96 149.85,153.97 150.10,153.98 150.35,153.98 150.60,153.99 150.85,154.00 151.10,154.00 151.35,154.01 151.60,154.01 151.85,154.02 152.10,154.02 152.35,154.03 152.60,154.03 152.85,154.04 153.10,154.05 153.35,154.05 153.60,154.06 153.85,154.06 154.10,154.07 154.35,154.07 154.60,154.08 154.85,154.08 155.10,154.09 155.35,154.09 155.60,154.10 155.85,154.10 156.10,154.11 156.35,154.12 156.60,154.12 156.85,154.13 157.10,154.13 157.35,154.14 157.60,154.14 157.85,154.15 158.10,154.15 158.35,154.16 158.60,154.16 158.85,154.17 159.10,154.17 159.35,154.18 159.60,154.18 159.85,154.19 160.10,154.19 160.35,154.20 160.60,154.20 160.85,154.21 161.10,154.21 161.35,154.22 161.60,154.22 161.85,154.23 162.10,154.23 162.35,154.24 162.60,154.24 162.85,154.25 163.10,154.25 163.35,154.26 163.60,154.26 163.85,154.27 164.10,154.27 164.35,154.28 164.60,154.28 164.85,154.29 165.10,154.29 165.35,154.30 165.60,154.30 165.85,154.31 166.10,154.31 166.35,154.32 166.60,154.32 166.85,154.33 167.10,154.33 167.35,154.33 167.60,154.34 167.85,154.34 168.10,154.35 168.35,154.35 168.60,154.36 168.85,154.36 169.10,154.37 169.35,154.37 169.60,154.38 169.85,154.38 170.10,154.39 170.35,154.39 170.60,154.39 170.85,154.40 171.10,154.40 171.35,154.41 171.60,154.41 171.85,154.42 172.10,154.42 172.35,154.43 172.60,154.43 172.85,154.43 173.10,154.44 173.35,154.44 173.60,154.45 173.85,154.45 174.10,154.45 174.35,154.46 174.60,154.46 174.85,154.46 175.10,154.47 175.35,154.47 175.60,154.48 175.85,154.48 176.10,154.48 176.35,154.49 176.60,154.49 176.85,154.49 177.10,154.49 177.35,154.50 177.60,154.50 177.85,154.50 178.10,154.50 178.35,154.50 178.60,154.50 178.85,154.50 179.10,154.50 179.35,154.50 179.60,154.49 179.85,154.49 180.10,154.48 180.35,154.46 180.60,154.44 180.85,154.42 181.10,154.39 181.35,154.35 181.60,154.30 181.85,154.25 182.10,154.18 182.35,154.10 182.60,154.01 182.85,153.91 183.10,153.80 183.35,153.68 183.60,153.55 183.85,153.41 184.10,153.28 184.35,153.14 184.60,153.01 184.85,152.89 185.10,152.78 185.35,152.69 185.60,152.63 185.85,152.60 186.10,152.60 186.35,152.64 186.60,152.70 186.85,152.79 187.10,152.90 187.35,153.03 187.60,153.17 187.85,153.31 188.10,153.46 188.35,153.60 188.60,153.74 188.85,153.87 189.10,153.99 189.35,154.11 189.60,154.20 189.85,154.29 190.10,154.37 190.35,154.43 190.60,154.49 190.85,154.54 191.10,154.58 191.35,154.61 191.60,154.63 191.85,154.65 192.10,154.67 192.35,154.68 192.60,154.68 192.85,154.68 193.10,154.67 193.35,154.64 193.60,154.61 193.85,154.56 194.10,154.50 194.35,154.42 194.60,154.33 194.85,154.22 195.10,154.11 195.35,154.00 195.60,153.90 195.85,153.83 196.10,153.80 196.35,153.81 196.60,153.86 196.85,153.95 197.10,154.06 197.35,154.18 197.60,154.30 197.85,154.42 198.10,154.52 198.35,154.61 198.60,154.68 198.85,154.74 199.10,154.78 199.35,154.81 199.60,154.84 199.85,154.85 200.10,154.87 200.35,154.88 200.60,154.89 200.85,154.89 201.10,154.90 201.35,154.91 201.60,154.91 201.85,154.91 202.10,154.92 202.35,154.92 202.60,154.92 202.85,154.93 203.10,154.93 203.35,154.93 203.60,154.92 203.85,154.92 204.10,154.92 204.35,154.91 204.60,154.90 204.85,154.89 205.10,154.88 205.35,154.87 205.60,154.85 205.85,154.83 206.10,154.80 206.35,154.77 206.60,154.74 206.85,154.71 207.10,154.67 207.35,154.63 207.60,154.58 207.85,154.54 208.10,154.49 208.35,154.44 208.60,154.40 208.85,154.35 209.10,154.31 209.35,154.28 209.60,154.25 209.85,154.22 210.10,154.21 210.35,154.20 210.60,154.20 210.85,154.21 211.10,154.24 211.35,154.27 211.60,154.30 211.85,154.35 212.10,154.39 212.35,154.45 212.60,154.50 212.85,154.55 213.10,154.61 213.35,154.66 213.60,154.71 213.85,154.76 214.10,154.81 214.35,154.85 214.60,154.89 214.85,154.93 215.10,154.96 215.35,154.99 215.60,155.02 215.85,155.05 216.10,155.07 216.35,155.09 216.60,155.10 216.85,155.12 217.10,155.13 217.35,155.14 217.60,155.15 217.85,155.16 218.10,155.17 218.35,155.17 218.60,155.18 218.85,155.19 219.10,155.19 219.35,155.20 219.60,155.20 219.85,155.21 220.10,155.21 220.35,155.21 220.60,155.22 220.85,155.22 221.10,155.23 221.35,155.23 221.60,155.24 221.85,155.24 222.10,155.24 222.35,155.25 222.60,155.25 222.85,155.25 223.10,155.26 223.35,155.26 223.60,155.26 223.85,155.27 224.10,155.27 224.35,155.27 224.60,155.28 224.85,155.28 225.10,155.29 225.35,155.29 225.60,155.29 225.85,155.30 226.10,155.30 226.35,155.30 226.60,155.30 226.85,155.31 227.10,155.31 227.35,155.31 227.60,155.32 227.85,155.32 228.10,155.32 228.35,155.33 228.60,155.33 228.85,155.33 229.10,155.34 229.35,155.34 229.60,155.34 229.85,155.34 230.10,155.35 230.35,155.35 230.60,155.35 230.85,155.36 231.10,155.36 231.35,155.36 231.60,155.36 231.85,155.37 232.10,155.37 232.35,155.37 232.60,155.38 232.85,155.38 233.10,155.38 233.35,155.38 233.60,155.39 233.85,155.39 234.10,155.39 234.35,155.39 234.60,155.40 234.85,155.40 235.10,155.40 235.35,155.40 235.60,155.41 235.85,155.41 236.10,155.41 236.35,155.41 236.60,155.42 236.85,155.42 237.10,155.42 237.35,155.42 237.60,155.43 237.85,155.43 238.10,155.43 238.35,155.43 238.60,155.44 238.85,155.44 239.10,155.44 239.35,155.44 239.60,155.45 239.85,155.45 240.10,155.45 240.35,155.45 240.60,155.45 240.85,155.46 241.10,155.46 241.35,155.46 241.60,155.46 241.85,155.47 242.10,155.47 242.35,155.47 242.60,155.47 242.85,155.47 243.10,155.48 243.35,155.48 243.60,155.48 243.85,155.48 244.10,155.48 244.35,155.49 244.60,155.49 244.85,155.49 245.10,155.49 245.35,155.49 245.60,155.50" fill="none" stroke="#D81818" stroke-width="2.1" stroke-linejoin="round" stroke-linecap="round"/>
<polyline points="23.10,208.21 23.35,208.12 23.60,208.03 23.85,207.95 24.10,207.86 24.35,207.77 24.60,207.67 24.85,207.58 25.10,207.47 25.35,207.34 25.60,207.18 25.85,206.93 26.10,206.55 26.35,205.95 26.60,205.08 26.85,203.91 27.10,202.55 27.35,201.20 27.60,200.21 27.85,199.91 28.10,200.41 28.35,201.48 28.60,202.76 28.85,203.95 29.10,204.89 29.35,205.53 29.60,205.90 29.85,206.09 30.10,206.16 30.35,206.16 30.60,206.12 30.85,206.06 31.10,205.97 31.35,205.87 31.60,205.74 31.85,205.56 32.10,205.31 32.35,204.94 32.60,204.39 32.85,203.56 33.10,202.34 33.35,200.64 33.60,198.43 33.85,195.77 34.10,192.88 34.35,190.10 34.60,187.92 34.85,186.85 35.10,187.18 35.35,188.78 35.60,191.19 35.85,193.90 36.10,196.51 36.35,198.74 36.60,200.48 36.85,201.73 37.10,202.57 37.35,203.09 37.60,203.41 37.85,203.61 38.10,203.74 38.35,203.82 38.60,203.88 38.85,203.93 39.10,203.97 39.35,204.01 39.60,204.04 39.85,204.07 40.10,204.10 40.35,204.13 40.60,204.15 40.85,204.18 41.10,204.20 41.35,204.22 41.60,204.25 41.85,204.27 42.10,204.29 42.35,204.31 42.60,204.33 42.85,204.35 43.10,204.36 43.35,204.38 43.60,204.40 43.85,204.42 44.10,204.43 44.35,204.45 44.60,204.47 44.85,204.48 45.10,204.50 45.35,204.51 45.60,204.52 45.85,204.54 46.10,204.55 46.35,204.57 46.60,204.58 46.85,204.60 47.10,204.62 47.35,204.63 47.60,204.65 47.85,204.67 48.10,204.69 48.35,204.70 48.60,204.72 48.85,204.74 49.10,204.76 49.35,204.77 49.60,204.79 49.85,204.81 50.10,204.83 50.35,204.85 50.60,204.86 50.85,204.88 51.10,204.90 51.35,204.92 51.60,204.94 51.85,204.95 52.10,204.97 52.35,204.99 52.60,205.01 52.85,205.02 53.10,205.04 53.35,205.05 53.60,205.07 53.85,205.09 54.10,205.10 54.35,205.12 54.60,205.13 54.85,205.14 55.10,205.16 55.35,205.17 55.60,205.18 55.85,205.19 56.10,205.20 56.35,205.21 56.60,205.22 56.85,205.23 57.10,205.23 57.35,205.24 57.60,205.24 57.85,205.25 58.10,205.25 58.35,205.25 58.60,205.25 58.85,205.25 59.10,205.24 59.35,205.24 59.60,205.23 59.85,205.22 60.10,205.20 60.35,205.19 60.60,205.17 60.85,205.15 61.10,205.12 61.35,205.10 61.60,205.06 61.85,205.02 62.10,204.98 62.35,204.92 62.60,204.85 62.85,204.77 63.10,204.67 63.35,204.55 63.60,204.40 63.85,204.21 64.10,203.94 64.35,203.54 64.60,202.93 64.85,201.96 65.10,200.47 65.35,198.27 65.60,195.22 65.85,191.28 66.10,186.61 66.35,181.61 66.60,176.96 66.85,173.51 67.10,172.10 67.35,173.10 67.60,176.11 67.85,180.27 68.10,184.65 68.35,188.50 68.60,191.26 68.85,192.58 69.10,192.24 69.35,190.13 69.60,186.19 69.85,180.53 70.10,173.40 70.35,165.35 70.60,157.23 70.85,150.19 71.10,145.54 71.35,144.38 71.60,147.02 71.85,152.79 72.10,160.45 72.35,168.73 72.60,176.65 72.85,183.55 73.10,189.11 73.35,193.30 73.60,196.26 73.85,198.26 74.10,199.55 74.35,200.36 74.60,200.88 74.85,201.23 75.10,201.47 75.35,201.65 75.60,201.81 75.85,201.94 76.10,202.05 76.35,202.16 76.60,202.26 76.85,202.36 77.10,202.45 77.35,202.53 77.60,202.62 77.85,202.70 78.10,202.78 78.35,202.86 78.60,202.93 78.85,203.00 79.10,203.08 79.35,203.15 79.60,203.22 79.85,203.28 80.10,203.35 80.35,203.41 80.60,203.47 80.85,203.53 81.10,203.58 81.35,203.64 81.60,203.69 81.85,203.73 82.10,203.78 82.35,203.82 82.60,203.86 82.85,203.90 83.10,203.95 83.35,203.99 83.60,204.03 83.85,204.07 84.10,204.11 84.35,204.15 84.60,204.20 84.85,204.24 85.10,204.28 85.35,204.32 85.60,204.36 85.85,204.40 86.10,204.44 86.35,204.48 86.60,204.52 86.85,204.56 87.10,204.60 87.35,204.64 87.60,204.68 87.85,204.72 88.10,204.76 88.35,204.80 88.60,204.84 88.85,204.87 89.10,204.91 89.35,204.95 89.60,204.99 89.85,205.03 90.10,205.06 90.35,205.10 90.60,205.14 90.85,205.17 91.10,205.21 91.35,205.24 91.60,205.28 91.85,205.31 92.10,205.35 92.35,205.38 92.60,205.41 92.85,205.44 93.10,205.48 93.35,205.51 93.60,205.54 93.85,205.57 94.10,205.60 94.35,205.63 94.60,205.65 94.85,205.68 95.10,205.71 95.35,205.73 95.60,205.76 95.85,205.78 96.10,205.81 96.35,205.83 96.60,205.85 96.85,205.87 97.10,205.89 97.35,205.91 97.60,205.93 97.85,205.95 98.10,205.96 98.35,205.98 98.60,205.99 98.85,206.00 99.10,206.01 99.35,206.02 99.60,206.03 99.85,206.03 100.10,206.04 100.35,206.04 100.60,206.04 100.85,206.04 101.10,206.04 101.35,206.04 101.60,206.03 101.85,206.02 102.10,206.01 102.35,206.00 102.60,205.97 102.85,205.94 103.10,205.89 103.35,205.82 103.60,205.70 103.85,205.51 104.10,205.22 104.35,204.79 104.60,204.16 104.85,203.30 105.10,202.18 105.35,200.80 105.60,199.21 105.85,197.52 106.10,195.89 106.35,194.51 106.60,193.63 106.85,193.42 107.10,193.93 107.35,195.05 107.60,196.57 107.85,198.26 108.10,199.93 108.35,201.46 108.60,202.75 108.85,203.78 109.10,204.55 109.35,205.11 109.60,205.49 109.85,205.75 110.10,205.92 110.35,206.03 110.60,206.10 110.85,206.15 111.10,206.19 111.35,206.21 111.60,206.23 111.85,206.24 112.10,206.24 112.35,206.23 112.60,206.20 112.85,206.16 113.10,206.08 113.35,205.95 113.60,205.78 113.85,205.54 114.10,205.22 114.35,204.82 114.60,204.34 114.85,203.80 115.10,203.21 115.35,202.62 115.60,202.07 115.85,201.64 116.10,201.37 116.35,201.31 116.60,201.47 116.85,201.83 117.10,202.34 117.35,202.92 117.60,203.54 117.85,204.13 118.10,204.67 118.35,205.14 118.60,205.52 118.85,205.83 119.10,206.06 119.35,206.24 119.60,206.36 119.85,206.45 120.10,206.52 120.35,206.57 120.60,206.60 120.85,206.63 121.10,206.65 121.35,206.67 121.60,206.68 121.85,206.70 122.10,206.71 122.35,206.73 122.60,206.74 122.85,206.75 123.10,206.76 123.35,206.77 123.60,206.78 123.85,206.79 124.10,206.80 124.35,206.81 124.60,206.82 124.85,206.82 125.10,206.83 125.35,206.84 125.60,206.85 125.85,206.86 126.10,206.86 126.35,206.87 126.60,206.88 126.85,206.89 127.10,206.89 127.35,206.90 127.60,206.91 127.85,206.91 128.10,206.92 128.35,206.93 128.60,206.93 128.85,206.94 129.10,206.94 129.35,206.95 129.60,206.96 129.85,206.96 130.10,206.97 130.35,206.97 130.60,206.98 130.85,206.98 131.10,206.99 131.35,207.00 131.60,207.00 131.85,207.01 132.10,207.01 132.35,207.02 132.60,207.02 132.85,207.03 133.10,207.03 133.35,207.04 133.60,207.04 133.85,207.05 134.10,207.05 134.35,207.05 134.60,207.06 134.85,207.06 135.10,207.07 135.35,207.07 135.60,207.07 135.85,207.08 136.10,207.08 136.35,207.08 136.60,207.08 136.85,207.08 137.10,207.08 137.35,207.07 137.60,207.07 137.85,207.06 138.10,207.05 138.35,207.04 138.60,207.03 138.85,207.01 139.10,206.99 139.35,206.97 139.60,206.95 139.85,206.93 140.10,206.90 140.35,206.88 140.60,206.86 140.85,206.84 141.10,206.82 141.35,206.81 141.60,206.80 141.85,206.80 142.10,206.80 142.35,206.81 142.60,206.83 142.85,206.85 143.10,206.88 143.35,206.91 143.60,206.94 143.85,206.97 144.10,207.00 144.35,207.04 144.60,207.07 144.85,207.10 145.10,207.13 145.35,207.15 145.60,207.18 145.85,207.20 146.10,207.22 146.35,207.24 146.60,207.25 146.85,207.27 147.10,207.28 147.35,207.29 147.60,207.30 147.85,207.31 148.10,207.32 148.35,207.33 148.60,207.34 148.85,207.34 149.10,207.35 149.35,207.36 149.60,207.36 149.85,207.37 150.10,207.38 150.35,207.38 150.60,207.39 150.85,207.40 151.10,207.40 151.35,207.41 151.60,207.42 151.85,207.42 152.10,207.43 152.35,207.44 152.60,207.44 152.85,207.45 153.10,207.46 153.35,207.46 153.60,207.47 153.85,207.48 154.10,207.49 154.35,207.49 154.60,207.50 154.85,207.51 155.10,207.52 155.35,207.52 155.60,207.53 155.85,207.54 156.10,207.55 156.35,207.55 156.60,207.56 156.85,207.57 157.10,207.58 157.35,207.58 157.60,207.59 157.85,207.60 158.10,207.61 158.35,207.62 158.60,207.62 158.85,207.63 159.10,207.64 159.35,207.65 159.60,207.65 159.85,207.66 160.10,207.67 160.35,207.68 160.60,207.69 160.85,207.69 161.10,207.70 161.35,207.71 161.60,207.72 161.85,207.72 162.10,207.73 162.35,207.74 162.60,207.75 162.85,207.76 163.10,207.76 163.35,207.77 163.60,207.78 163.85,207.79 164.10,207.79 164.35,207.80 164.60,207.81 164.85,207.82 165.10,207.82 165.35,207.83 165.60,207.84 165.85,207.85 166.10,207.85 166.35,207.86 166.60,207.87 166.85,207.87 167.10,207.88 167.35,207.89 167.60,207.90 167.85,207.90 168.10,207.91 168.35,207.92 168.60,207.92 168.85,207.93 169.10,207.93 169.35,207.94 169.60,207.95 169.85,207.95 170.10,207.96 170.35,207.96 170.60,207.97 170.85,207.98 171.10,207.98 171.35,207.99 171.60,207.99 171.85,208.00 172.10,208.00 172.35,208.01 172.60,208.01 172.85,208.02 173.10,208.02 173.35,208.02 173.60,208.03 173.85,208.03 174.10,208.03 174.35,208.04 174.60,208.04 174.85,208.04 175.10,208.05 175.35,208.05 175.60,208.05 175.85,208.05 176.10,208.06 176.35,208.06 176.60,208.06 176.85,208.06 177.10,208.06 177.35,208.06 177.60,208.06 177.85,208.06 178.10,208.06 178.35,208.06 178.60,208.05 178.85,208.05 179.10,208.04 179.35,208.03 179.60,208.02 179.85,208.00 180.10,207.98 180.35,207.95 180.60,207.91 180.85,207.87 181.10,207.81 181.35,207.74 181.60,207.66 181.85,207.55 182.10,207.43 182.35,207.29 182.60,207.13 182.85,206.95 183.10,206.75 183.35,206.53 183.60,206.30 183.85,206.06 184.10,205.82 184.35,205.57 184.60,205.34 184.85,205.12 185.10,204.93 185.35,204.78 185.60,204.67 185.85,204.61 186.10,204.61 186.35,204.66 186.60,204.76 186.85,204.92 187.10,205.11 187.35,205.33 187.60,205.56 187.85,205.81 188.10,206.06 188.35,206.31 188.60,206.55 188.85,206.78 189.10,206.99 189.35,207.18 189.60,207.35 189.85,207.50 190.10,207.63 190.35,207.74 190.60,207.83 190.85,207.91 191.10,207.97 191.35,208.03 191.60,208.07 191.85,208.10 192.10,208.12 192.35,208.13 192.60,208.14 192.85,208.13 193.10,208.12 193.35,208.08 193.60,208.03 193.85,207.96 194.10,207.86 194.35,207.74 194.60,207.60 194.85,207.44 195.10,207.27 195.35,207.11 195.60,206.96 195.85,206.86 196.10,206.80 196.35,206.81 196.60,206.89 196.85,207.01 197.10,207.17 197.35,207.35 197.60,207.53 197.85,207.70 198.10,207.84 198.35,207.97 198.60,208.08 198.85,208.16 199.10,208.22 199.35,208.26 199.60,208.30 199.85,208.32 200.10,208.34 200.35,208.35 200.60,208.36 200.85,208.37 201.10,208.37 201.35,208.38 201.60,208.38 201.85,208.38 202.10,208.39 202.35,208.39 202.60,208.39 202.85,208.39 203.10,208.39 203.35,208.39 203.60,208.38 203.85,208.38 204.10,208.37 204.35,208.36 204.60,208.35 204.85,208.33 205.10,208.31 205.35,208.29 205.60,208.27 205.85,208.24 206.10,208.20 206.35,208.16 206.60,208.12 206.85,208.07 207.10,208.02 207.35,207.97 207.60,207.91 207.85,207.85 208.10,207.79 208.35,207.73 208.60,207.67 208.85,207.61 209.10,207.55 209.35,207.51 209.60,207.47 209.85,207.43 210.10,207.41 210.35,207.40 210.60,207.40 210.85,207.42 211.10,207.44 211.35,207.48 211.60,207.52 211.85,207.57 212.10,207.63 212.35,207.69 212.60,207.76 212.85,207.83 213.10,207.89 213.35,207.96 213.60,208.02 213.85,208.08 214.10,208.14 214.35,208.20 214.60,208.25 214.85,208.29 215.10,208.33 215.35,208.37 215.60,208.40 215.85,208.43 216.10,208.45 216.35,208.47 216.60,208.49 216.85,208.51 217.10,208.52 217.35,208.53 217.60,208.55 217.85,208.55 218.10,208.56 218.35,208.57 218.60,208.58 218.85,208.58 219.10,208.59 219.35,208.59 219.60,208.59 219.85,208.60 220.10,208.60 220.35,208.61 220.60,208.61 220.85,208.61 221.10,208.62 221.35,208.62 221.60,208.62 221.85,208.63 222.10,208.63 222.35,208.63 222.60,208.63 222.85,208.64 223.10,208.64 223.35,208.64 223.60,208.64 223.85,208.65 224.10,208.65 224.35,208.65 224.60,208.65 224.85,208.66 225.10,208.66 225.35,208.66 225.60,208.66 225.85,208.67 226.10,208.67 226.35,208.67 226.60,208.67 226.85,208.68 227.10,208.68 227.35,208.68 227.60,208.68 227.85,208.68 228.10,208.69 228.35,208.69 228.60,208.69 228.85,208.69 229.10,208.69 229.35,208.70 229.60,208.70 229.85,208.70 230.10,208.70 230.35,208.70 230.60,208.71 230.85,208.71 231.10,208.71 231.35,208.71 231.60,208.71 231.85,208.72 232.10,208.72 232.35,208.72 232.60,208.72 232.85,208.72 233.10,208.72 233.35,208.73 233.60,208.73 233.85,208.73 234.10,208.73 234.35,208.73 234.60,208.73 234.85,208.74 235.10,208.74 235.35,208.74 235.60,208.74 235.85,208.74 236.10,208.74 236.35,208.75 236.60,208.75 236.85,208.75 237.10,208.75 237.35,208.75 237.60,208.75 237.85,208.76 238.10,208.76 238.35,208.76 238.60,208.76 238.85,208.76 239.10,208.76 239.35,208.76 239.60,208.77 239.85,208.77 240.10,208.77 240.35,208.77 240.60,208.77 240.85,208.77 241.10,208.77 241.35,208.77 241.60,208.78 241.85,208.78 242.10,208.78 242.35,208.78 242.60,208.78 242.85,208.78 243.10,208.78 243.35,208.78 243.60,208.79 243.85,208.79 244.10,208.79 244.35,208.79 244.60,208.79 244.85,208.79 245.10,208.79 245.35,208.79 245.60,208.79" fill="none" stroke="#000000" stroke-width="2.0" stroke-linejoin="round" stroke-linecap="round"/>
</g>
<rect x="23.1" y="2.6" width="222.55" height="219.85" fill="none" stroke="#000" stroke-width="1.9"/>
<path d="M41.65,222.45v-4.2M41.65,2.6v4.2M60.19,222.45v-7.5M60.19,2.6v7.5M78.74,222.45v-4.2M78.74,2.6v4.2M97.28,222.45v-7.5M97.28,2.6v7.5M115.83,222.45v-4.2M115.83,2.6v4.2M134.38,222.45v-7.5M134.38,2.6v7.5M152.92,222.45v-4.2M152.92,2.6v4.2M171.47,222.45v-7.5M171.47,2.6v7.5M190.01,222.45v-4.2M190.01,2.6v4.2M208.56,222.45v-7.5M208.56,2.6v7.5M227.10,222.45v-4.2M227.10,2.6v4.2" stroke="#000" stroke-width="1.7" fill="none"/>
<path d="M23.1,18.00h7.5M245.65,18.00h-7.5M23.1,39.50h4.2M245.65,39.50h-4.2M23.1,61.00h7.5M245.65,61.00h-7.5M23.1,82.50h4.2M245.65,82.50h-4.2M23.1,104.00h7.5M245.65,104.00h-7.5M23.1,125.50h4.2M245.65,125.50h-4.2M23.1,147.00h7.5M245.65,147.00h-7.5M23.1,168.50h4.2M245.65,168.50h-4.2M23.1,190.00h7.5M245.65,190.00h-7.5M23.1,211.50h4.2M245.65,211.50h-4.2" stroke="#000" stroke-width="1.7" fill="none"/>
<g clip-path="url(#cb)">
<polyline points="278.80,98.07 279.30,98.83 279.80,97.04 280.30,97.41 280.80,98.17 281.30,97.57 281.80,97.48 282.30,98.46 282.80,97.40 283.30,96.96 283.80,96.85 284.30,97.65 284.80,97.60 285.30,96.74 285.80,96.90 286.30,97.64 286.80,97.64 287.30,97.00 287.80,97.61 288.30,97.56 288.80,96.37 289.30,97.08 289.80,97.42 290.30,96.91 290.80,96.11 291.30,97.02 291.80,97.52 292.30,97.92 292.80,96.02 293.30,98.41 293.80,96.52 294.30,97.55 294.80,97.68 295.30,97.54 295.80,97.11 296.30,96.44 296.80,97.33 297.30,96.65 297.80,95.73 298.30,98.40 298.80,97.33 299.30,97.88 299.80,96.50 300.30,97.68 300.80,97.74 301.30,97.71 301.80,96.92 302.30,96.32 302.80,96.83 303.30,95.81 303.80,96.05 304.30,96.94 304.80,96.40 305.30,96.80 305.80,96.83 306.30,97.84 306.80,97.52 307.30,96.84 307.80,97.46 308.30,96.46 308.80,96.68 309.30,97.30 309.80,96.22 310.30,96.69 310.80,96.16 311.30,96.88 311.80,97.63 312.30,96.43 312.80,96.91 313.30,96.34 313.80,96.21 314.30,96.16 314.80,97.50 315.30,97.94 315.80,97.00 316.30,96.39 316.80,97.09 317.30,96.56 317.80,97.12 318.30,96.85 318.80,96.83 319.30,96.99 319.80,96.38 320.30,96.46 320.80,95.78 321.30,96.41 321.80,95.91 322.30,96.53 322.80,96.11 323.30,96.62 323.80,96.78 324.30,95.82 324.80,96.11 325.30,96.03 325.80,96.85 326.30,97.31 326.80,96.86 327.30,96.24 327.80,97.12 328.30,95.61 328.80,97.09 329.30,95.98 329.80,94.89 330.30,97.58 330.80,97.02 331.30,95.68 331.80,96.25 332.30,96.02 332.80,96.15 333.30,95.32 333.80,95.69 334.30,96.22 334.80,96.06 335.30,96.51 335.80,95.91 336.30,97.00 336.80,95.43 337.30,95.87 337.80,94.74 338.30,95.02 338.80,96.26 339.30,95.08 339.80,95.76 340.30,95.41 340.80,94.87 341.30,95.16 341.80,95.02 342.30,94.97 342.80,95.53 343.30,95.42 343.80,94.74 344.30,94.51 344.80,95.04 345.30,94.78 345.80,95.27 346.30,96.01 346.80,95.03 347.30,94.52 347.80,94.37 348.30,93.95 348.80,93.85 349.30,93.71 349.80,93.93 350.30,93.83 350.80,94.33 351.30,93.67 351.80,93.67 352.30,93.07 352.80,94.40 353.30,93.74 353.80,94.28 354.30,93.68 354.80,93.92 355.30,92.94 355.80,93.32 356.30,94.20 356.80,92.12 357.30,93.21 357.80,93.35 358.30,92.59 358.80,92.64 359.30,92.78 359.80,91.67 360.30,92.09 360.80,91.30 361.30,91.27 361.80,91.16 362.30,91.26 362.80,91.27 363.30,91.28 363.80,90.17 364.30,91.76 364.80,91.18 365.30,90.80 365.80,90.08 366.30,90.05 366.80,90.20 367.30,89.95 367.80,88.70 368.30,89.75 368.80,90.68 369.30,88.04 369.80,89.29 370.30,88.77 370.80,88.31 371.30,88.85 371.80,87.31 372.30,87.77 372.80,88.20 373.30,87.11 373.80,86.74 374.30,86.76 374.80,86.21 375.30,86.96 375.80,85.43 376.30,86.06 376.80,84.67 377.30,85.36 377.80,84.65 378.30,83.07 378.80,84.07 379.30,83.19 379.80,83.17 380.30,83.84 380.80,82.12 381.30,81.78 381.80,82.69 382.30,81.63 382.80,81.97 383.30,80.94 383.80,79.91 384.30,79.91 384.80,80.14 385.30,79.55 385.80,78.61 386.30,78.18 386.80,77.62 387.30,76.90 387.80,77.69 388.30,76.20 388.80,75.10 389.30,74.90 389.80,74.98 390.30,74.39 390.80,73.43 391.30,72.58 391.80,72.35 392.30,70.88 392.80,70.46 393.30,70.92 393.80,69.64 394.30,69.44 394.80,69.22 395.30,68.27 395.80,67.28 396.30,67.68 396.80,66.24 397.30,65.01 397.80,64.87 398.30,63.98 398.80,62.60 399.30,62.35 399.80,61.48 400.30,59.80 400.80,59.96 401.30,59.14 401.80,58.28 402.30,56.87 402.80,56.74 403.30,56.10 403.80,55.37 404.30,53.91 404.80,54.00 405.30,52.22 405.80,51.89 406.30,51.84 406.80,49.96 407.30,49.20 407.80,49.15 408.30,47.53 408.80,46.70 409.30,46.09 409.80,45.63 410.30,43.07 410.80,42.88 411.30,41.90 411.80,40.98 412.30,40.21 412.80,39.34 413.30,39.05 413.80,37.58 414.30,37.25 414.80,36.55 415.30,35.14 415.80,34.77 416.30,34.75 416.80,33.30 417.30,32.05 417.80,31.61 418.30,30.46 418.80,30.38 419.30,30.02 419.80,28.52 420.30,28.22 420.80,28.31 421.30,26.92 421.80,26.74 422.30,25.61 422.80,25.22 423.30,24.92 423.80,25.84 424.30,24.14 424.80,23.70 425.30,23.33 425.80,23.20 426.30,23.32 426.80,22.81 427.30,23.50 427.80,22.36 428.30,22.79 428.80,22.04 429.30,22.06 429.80,20.93 430.30,21.49 430.80,21.46 431.30,21.33 431.80,20.36 432.30,21.88 432.80,21.28 433.30,21.30 433.80,21.47 434.30,21.58 434.80,22.01 435.30,21.31 435.80,21.64 436.30,22.43 436.80,22.56 437.30,22.52 437.80,22.66 438.30,22.79 438.80,23.45 439.30,24.37 439.80,23.56 440.30,25.18 440.80,25.19 441.30,24.90 441.80,25.90 442.30,25.18 442.80,25.46 443.30,26.10 443.80,26.98 444.30,27.48 444.80,27.85 445.30,28.63 445.80,28.00 446.30,29.82 446.80,29.36 447.30,30.26 447.80,30.90 448.30,31.05 448.80,31.48 449.30,32.20 449.80,33.23 450.30,34.07 450.80,34.61 451.30,34.37 451.80,35.02 452.30,35.50 452.80,36.72 453.30,36.02 453.80,38.19 454.30,37.87 454.80,38.24 455.30,39.33 455.80,40.19 456.30,40.35 456.80,41.21 457.30,41.24 457.80,42.26 458.30,42.74 458.80,42.53 459.30,43.74 459.80,43.53 460.30,43.91 460.80,43.81 461.30,44.52 461.80,45.42 462.30,44.74 462.80,46.07 463.30,46.26 463.80,46.55 464.30,45.62 464.80,46.98 465.30,47.65 465.80,47.23 466.30,47.93 466.80,46.96 467.30,48.74 467.80,48.33 468.30,49.34 468.80,48.21 469.30,49.71 469.80,49.47 470.30,50.21 470.80,49.55 471.30,49.92 471.80,51.55 472.30,50.21 472.80,50.47 473.30,50.88 473.80,50.70 474.30,52.00 474.80,52.45 475.30,51.43 475.80,51.10 476.30,52.74 476.80,52.90 477.30,52.94 477.80,53.30 478.30,52.48 478.80,53.03 479.30,52.62 479.80,52.80 480.30,54.20 480.80,53.58 481.30,55.27 481.80,54.38 482.30,54.24 482.80,55.17 483.30,55.89 483.80,55.45 484.30,54.82 484.80,55.84 485.30,56.56 485.80,55.85 486.30,55.93 486.80,57.05 487.30,56.84 487.80,56.44 488.30,57.02 488.80,57.06 489.30,57.80 489.80,57.93 490.30,58.67 490.80,58.66 491.30,57.74 491.80,58.94 492.30,59.40 492.80,59.38 493.30,59.87 493.80,59.29 494.30,59.28 494.80,60.42 495.30,59.61 495.80,59.25 496.30,61.03 496.80,60.33 497.30,60.71 497.80,60.34 498.30,60.54 498.80,60.78 499.30,61.33 499.80,61.84 500.30,60.65 500.80,62.31 501.30,61.47 501.80,61.65 502.30,62.64 502.80,62.37 503.30,61.74 503.80,63.53" fill="none" stroke="#FF00FF" stroke-width="3.0" stroke-linejoin="round" stroke-linecap="round"/>
<polyline points="278.80,130.77 279.30,129.63 279.80,130.08 280.30,129.75 280.80,129.72 281.30,130.42 281.80,128.97 282.30,130.14 282.80,129.56 283.30,130.27 283.80,129.64 284.30,129.19 284.80,129.64 285.30,129.85 285.80,129.48 286.30,129.69 286.80,129.16 287.30,128.34 287.80,129.83 288.30,129.71 288.80,129.42 289.30,129.36 289.80,129.82 290.30,129.06 290.80,128.91 291.30,129.15 291.80,129.82 292.30,128.51 292.80,129.78 293.30,128.85 293.80,128.60 294.30,129.76 294.80,129.06 295.30,128.44 295.80,128.89 296.30,129.51 296.80,129.62 297.30,128.79 297.80,129.19 298.30,129.32 298.80,128.62 299.30,129.10 299.80,128.89 300.30,128.61 300.80,128.62 301.30,128.87 301.80,128.83 302.30,128.51 302.80,128.56 303.30,129.31 303.80,128.84 304.30,129.15 304.80,129.29 305.30,128.96 305.80,129.77 306.30,128.20 306.80,129.00 307.30,128.41 307.80,129.47 308.30,129.37 308.80,127.52 309.30,127.98 309.80,128.78 310.30,128.81 310.80,128.76 311.30,128.33 311.80,128.57 312.30,128.64 312.80,128.24 313.30,128.77 313.80,127.10 314.30,128.52 314.80,127.65 315.30,128.62 315.80,128.00 316.30,127.64 316.80,128.24 317.30,127.56 317.80,127.53 318.30,127.17 318.80,127.91 319.30,128.14 319.80,128.37 320.30,127.75 320.80,128.31 321.30,127.76 321.80,127.67 322.30,127.97 322.80,128.17 323.30,127.44 323.80,127.45 324.30,127.45 324.80,127.53 325.30,127.00 325.80,127.93 326.30,127.17 326.80,127.56 327.30,126.88 327.80,127.43 328.30,127.40 328.80,126.95 329.30,128.13 329.80,127.26 330.30,127.91 330.80,127.46 331.30,126.60 331.80,126.69 332.30,127.05 332.80,126.82 333.30,126.76 333.80,126.54 334.30,125.73 334.80,126.47 335.30,125.42 335.80,126.66 336.30,126.06 336.80,126.01 337.30,126.20 337.80,126.39 338.30,125.48 338.80,125.27 339.30,125.55 339.80,125.00 340.30,125.48 340.80,126.70 341.30,125.31 341.80,126.10 342.30,125.03 342.80,125.80 343.30,125.42 343.80,125.49 344.30,125.73 344.80,126.26 345.30,125.41 345.80,125.30 346.30,124.68 346.80,125.39 347.30,124.90 347.80,125.37 348.30,124.85 348.80,125.67 349.30,123.73 349.80,124.50 350.30,125.01 350.80,124.31 351.30,124.01 351.80,124.19 352.30,123.55 352.80,124.21 353.30,125.29 353.80,124.56 354.30,123.34 354.80,123.37 355.30,123.52 355.80,124.13 356.30,123.13 356.80,123.10 357.30,123.79 357.80,123.69 358.30,122.97 358.80,122.50 359.30,122.19 359.80,122.52 360.30,121.65 360.80,123.04 361.30,122.24 361.80,122.69 362.30,123.28 362.80,122.82 363.30,121.55 363.80,122.44 364.30,122.47 364.80,121.40 365.30,121.17 365.80,121.46 366.30,120.58 366.80,121.98 367.30,119.90 367.80,120.41 368.30,120.67 368.80,120.54 369.30,120.57 369.80,120.46 370.30,120.05 370.80,120.54 371.30,118.72 371.80,119.60 372.30,119.04 372.80,119.26 373.30,119.09 373.80,118.30 374.30,118.21 374.80,118.69 375.30,118.22 375.80,117.45 376.30,118.55 376.80,118.41 377.30,116.25 377.80,116.84 378.30,117.64 378.80,116.47 379.30,115.87 379.80,115.32 380.30,114.81 380.80,114.63 381.30,114.09 381.80,114.37 382.30,113.41 382.80,112.99 383.30,112.21 383.80,112.36 384.30,111.51 384.80,111.43 385.30,111.59 385.80,110.79 386.30,110.39 386.80,109.83 387.30,109.19 387.80,108.59 388.30,107.99 388.80,107.99 389.30,106.53 389.80,107.19 390.30,105.98 390.80,105.02 391.30,104.57 391.80,103.88 392.30,103.69 392.80,102.64 393.30,102.94 393.80,101.34 394.30,99.96 394.80,100.07 395.30,98.77 395.80,99.09 396.30,98.96 396.80,98.08 397.30,96.40 397.80,95.99 398.30,96.57 398.80,95.14 399.30,94.28 399.80,94.10 400.30,94.09 400.80,92.80 401.30,91.51 401.80,90.91 402.30,90.33 402.80,89.00 403.30,88.07 403.80,87.92 404.30,86.71 404.80,86.45 405.30,85.84 405.80,86.26 406.30,83.98 406.80,83.66 407.30,82.96 407.80,82.59 408.30,82.23 408.80,80.80 409.30,79.99 409.80,78.94 410.30,78.66 410.80,78.77 411.30,77.92 411.80,76.79 412.30,76.52 412.80,76.14 413.30,75.82 413.80,74.72 414.30,74.35 414.80,73.05 415.30,72.88 415.80,73.77 416.30,71.39 416.80,71.86 417.30,71.70 417.80,70.98 418.30,70.35 418.80,70.34 419.30,70.00 419.80,69.62 420.30,68.40 420.80,68.96 421.30,68.32 421.80,68.22 422.30,68.37 422.80,68.36 423.30,68.30 423.80,67.44 424.30,68.02 424.80,68.03 425.30,67.92 425.80,67.99 426.30,67.19 426.80,67.16 427.30,67.68 427.80,66.62 428.30,67.46 428.80,67.17 429.30,67.35 429.80,66.78 430.30,67.34 430.80,67.93 431.30,68.55 431.80,68.79 432.30,68.45 432.80,68.61 433.30,68.51 433.80,69.37 434.30,69.29 434.80,69.97 435.30,70.81 435.80,70.20 436.30,69.74 436.80,70.35 437.30,70.35 437.80,70.77 438.30,72.33 438.80,72.09 439.30,71.52 439.80,72.92 440.30,73.53 440.80,73.02 441.30,73.17 441.80,73.65 442.30,74.27 442.80,74.76 443.30,75.35 443.80,75.68 444.30,75.99 444.80,76.40 445.30,76.38 445.80,75.62 446.30,76.66 446.80,77.23 447.30,77.23 447.80,78.24 448.30,77.97 448.80,78.07 449.30,79.64 449.80,79.64 450.30,79.82 450.80,80.59 451.30,81.07 451.80,81.14 452.30,80.16 452.80,81.47 453.30,82.00 453.80,82.15 454.30,83.14 454.80,84.03 455.30,83.57 455.80,83.62 456.30,85.55 456.80,84.66 457.30,84.60 457.80,85.66 458.30,86.07 458.80,85.81 459.30,86.86 459.80,86.51 460.30,86.57 460.80,87.39 461.30,87.95 461.80,87.51 462.30,88.24 462.80,88.28 463.30,89.97 463.80,88.44 464.30,89.71 464.80,89.22 465.30,89.40 465.80,90.04 466.30,90.34 466.80,90.73 467.30,90.47 467.80,90.20 468.30,90.43 468.80,91.16 469.30,91.39 469.80,91.99 470.30,91.70 470.80,92.21 471.30,92.64 471.80,92.16 472.30,91.53 472.80,91.88 473.30,91.94 473.80,93.65 474.30,92.63 474.80,93.87 475.30,93.74 475.80,94.51 476.30,94.35 476.80,93.99 477.30,94.14 477.80,94.48 478.30,94.72 478.80,94.57 479.30,95.01 479.80,96.03 480.30,94.57 480.80,95.75 481.30,95.36 481.80,96.10 482.30,96.63 482.80,96.37 483.30,96.98 483.80,95.99 484.30,97.54 484.80,96.87 485.30,97.68 485.80,97.65 486.30,96.46 486.80,97.56 487.30,98.24 487.80,99.09 488.30,98.65 488.80,98.82 489.30,98.17 489.80,99.78 490.30,100.15 490.80,99.44 491.30,99.50 491.80,98.98 492.30,100.41 492.80,101.50 493.30,100.68 493.80,101.13 494.30,100.94 494.80,100.35 495.30,101.68 495.80,100.57 496.30,101.25 496.80,101.66 497.30,102.13 497.80,102.06 498.30,102.21 498.80,101.79 499.30,101.69 499.80,102.52 500.30,102.29 500.80,102.14 501.30,102.31 501.80,102.85 502.30,102.32 502.80,102.71 503.30,102.71 503.80,103.76" fill="none" stroke="#0000F0" stroke-width="3.0" stroke-linejoin="round" stroke-linecap="round"/>
<polyline points="278.80,172.71 279.30,172.33 279.80,171.76 280.30,172.20 280.80,172.23 281.30,172.64 281.80,171.66 282.30,172.05 282.80,171.17 283.30,172.31 283.80,171.41 284.30,171.01 284.80,171.84 285.30,172.39 285.80,171.04 286.30,171.23 286.80,171.37 287.30,171.14 287.80,171.87 288.30,171.24 288.80,171.26 289.30,171.89 289.80,171.19 290.30,171.76 290.80,171.03 291.30,170.89 291.80,170.56 292.30,172.39 292.80,171.27 293.30,171.54 293.80,171.38 294.30,171.46 294.80,171.39 295.30,172.30 295.80,170.81 296.30,170.54 296.80,170.80 297.30,170.62 297.80,171.65 298.30,171.68 298.80,170.77 299.30,170.55 299.80,171.05 300.30,171.92 300.80,169.80 301.30,171.47 301.80,170.66 302.30,171.71 302.80,170.64 303.30,171.03 303.80,170.41 304.30,170.67 304.80,171.84 305.30,171.55 305.80,170.93 306.30,170.69 306.80,170.18 307.30,170.92 307.80,171.10 308.30,171.06 308.80,171.05 309.30,170.53 309.80,171.05 310.30,171.06 310.80,171.72 311.30,172.00 311.80,170.99 312.30,170.67 312.80,171.02 313.30,170.74 313.80,170.66 314.30,171.00 314.80,170.50 315.30,171.32 315.80,170.95 316.30,171.12 316.80,170.90 317.30,170.61 317.80,170.49 318.30,170.84 318.80,170.67 319.30,171.05 319.80,170.92 320.30,170.23 320.80,170.93 321.30,170.21 321.80,170.56 322.30,170.71 322.80,169.80 323.30,170.87 323.80,170.88 324.30,170.71 324.80,170.56 325.30,170.56 325.80,170.24 326.30,170.57 326.80,170.41 327.30,170.71 327.80,170.04 328.30,170.73 328.80,170.66 329.30,170.49 329.80,170.31 330.30,170.78 330.80,169.64 331.30,170.67 331.80,170.53 332.30,170.52 332.80,170.53 333.30,169.98 333.80,170.14 334.30,170.55 334.80,170.40 335.30,170.25 335.80,169.35 336.30,170.33 336.80,170.60 337.30,170.47 337.80,170.03 338.30,169.09 338.80,170.29 339.30,169.69 339.80,168.44 340.30,169.84 340.80,168.84 341.30,168.88 341.80,169.15 342.30,170.04 342.80,169.16 343.30,169.41 343.80,170.08 344.30,169.93 344.80,169.01 345.30,168.87 345.80,168.28 346.30,168.49 346.80,168.97 347.30,168.87 347.80,168.64 348.30,169.00 348.80,168.03 349.30,168.29 349.80,168.60 350.30,168.43 350.80,168.57 351.30,168.14 351.80,167.68 352.30,167.92 352.80,167.13 353.30,166.70 353.80,167.70 354.30,167.26 354.80,167.32 355.30,166.20 355.80,166.74 356.30,166.49 356.80,166.23 357.30,165.40 357.80,166.21 358.30,166.69 358.80,166.28 359.30,165.63 359.80,165.77 360.30,165.99 360.80,164.07 361.30,165.21 361.80,165.37 362.30,165.26 362.80,165.58 363.30,165.10 363.80,164.49 364.30,164.29 364.80,164.32 365.30,163.44 365.80,163.47 366.30,163.72 366.80,164.01 367.30,162.71 367.80,162.52 368.30,162.39 368.80,162.70 369.30,161.75 369.80,162.23 370.30,160.73 370.80,160.83 371.30,160.53 371.80,160.72 372.30,160.54 372.80,158.95 373.30,158.92 373.80,159.22 374.30,158.38 374.80,157.60 375.30,158.52 375.80,157.88 376.30,157.51 376.80,156.64 377.30,156.99 377.80,155.95 378.30,156.20 378.80,154.77 379.30,154.36 379.80,154.43 380.30,153.51 380.80,153.72 381.30,153.02 381.80,151.92 382.30,151.90 382.80,151.15 383.30,151.23 383.80,149.89 384.30,149.40 384.80,149.63 385.30,149.52 385.80,148.77 386.30,147.14 386.80,146.55 387.30,146.52 387.80,144.98 388.30,143.83 388.80,143.64 389.30,143.05 389.80,141.64 390.30,140.45 390.80,139.76 391.30,140.00 391.80,138.46 392.30,137.93 392.80,137.26 393.30,136.61 393.80,135.26 394.30,134.80 394.80,133.21 395.30,132.58 395.80,131.34 396.30,131.51 396.80,130.01 397.30,128.72 397.80,127.98 398.30,127.11 398.80,126.62 399.30,124.52 399.80,123.85 400.30,123.21 400.80,123.70 401.30,121.95 401.80,120.44 402.30,119.88 402.80,119.57 403.30,117.45 403.80,116.40 404.30,116.20 404.80,114.86 405.30,113.96 405.80,112.38 406.30,112.61 406.80,111.51 407.30,109.96 407.80,109.03 408.30,106.70 408.80,107.07 409.30,105.69 409.80,105.06 410.30,104.25 410.80,102.82 411.30,101.24 411.80,101.39 412.30,99.97 412.80,99.33 413.30,98.38 413.80,97.72 414.30,95.97 414.80,97.00 415.30,95.82 415.80,95.57 416.30,95.37 416.80,93.78 417.30,92.29 417.80,92.20 418.30,91.53 418.80,91.41 419.30,91.26 419.80,89.81 420.30,90.62 420.80,89.36 421.30,89.97 421.80,89.50 422.30,89.18 422.80,89.11 423.30,88.73 423.80,88.58 424.30,87.96 424.80,88.75 425.30,89.68 425.80,89.77 426.30,89.50 426.80,89.29 427.30,88.73 427.80,89.95 428.30,89.40 428.80,89.62 429.30,89.77 429.80,90.26 430.30,90.32 430.80,90.85 431.30,90.73 431.80,91.50 432.30,93.26 432.80,92.54 433.30,92.94 433.80,93.82 434.30,94.43 434.80,94.06 435.30,95.06 435.80,96.19 436.30,96.45 436.80,96.97 437.30,98.29 437.80,97.78 438.30,98.78 438.80,99.10 439.30,100.74 439.80,99.65 440.30,100.93 440.80,101.63 441.30,102.86 441.80,103.46 442.30,104.48 442.80,103.62 443.30,105.40 443.80,105.48 444.30,105.89 444.80,107.08 445.30,106.94 445.80,106.93 446.30,108.35 446.80,108.35 447.30,109.32 447.80,110.37 448.30,110.88 448.80,112.04 449.30,111.67 449.80,111.52 450.30,112.41 450.80,112.83 451.30,113.17 451.80,114.48 452.30,114.42 452.80,114.22 453.30,116.02 453.80,116.08 454.30,116.76 454.80,117.08 455.30,117.78 455.80,117.91 456.30,118.93 456.80,118.94 457.30,119.33 457.80,119.75 458.30,119.21 458.80,120.25 459.30,120.59 459.80,121.20 460.30,120.79 460.80,122.65 461.30,122.25 461.80,121.94 462.30,122.04 462.80,123.10 463.30,123.53 463.80,123.55 464.30,124.28 464.80,124.24 465.30,125.15 465.80,124.82 466.30,125.47 466.80,126.28 467.30,127.37 467.80,125.87 468.30,126.43 468.80,126.52 469.30,127.61 469.80,126.91 470.30,127.51 470.80,128.00 471.30,127.78 471.80,128.04 472.30,128.53 472.80,127.96 473.30,128.53 473.80,129.28 474.30,129.79 474.80,129.85 475.30,129.27 475.80,130.15 476.30,130.99 476.80,131.08 477.30,130.97 477.80,130.77 478.30,131.72 478.80,131.31 479.30,131.21 479.80,131.58 480.30,132.89 480.80,132.46 481.30,133.10 481.80,132.46 482.30,133.34 482.80,132.73 483.30,133.12 483.80,134.60 484.30,133.90 484.80,133.43 485.30,133.79 485.80,134.14 486.30,134.73 486.80,134.03 487.30,133.54 487.80,134.41 488.30,134.70 488.80,134.88 489.30,135.62 489.80,135.25 490.30,135.62 490.80,134.79 491.30,135.90 491.80,136.64 492.30,136.10 492.80,135.95 493.30,136.02 493.80,136.95 494.30,135.71 494.80,136.23 495.30,136.62 495.80,136.87 496.30,136.39 496.80,136.87 497.30,136.68 497.80,136.98 498.30,136.96 498.80,136.56 499.30,137.22 499.80,137.76 500.30,136.94 500.80,137.40 501.30,137.95 501.80,137.18 502.30,137.90 502.80,137.37 503.30,138.57 503.80,139.25" fill="none" stroke="#F00000" stroke-width="3.0" stroke-linejoin="round" stroke-linecap="round"/>
<polyline points="278.80,203.39 279.30,203.47 279.80,203.12 280.30,202.75 280.80,202.90 281.30,202.58 281.80,203.05 282.30,203.63 282.80,202.66 283.30,202.55 283.80,203.05 284.30,202.94 284.80,202.77 285.30,202.21 285.80,202.62 286.30,202.94 286.80,201.88 287.30,202.29 287.80,201.53 288.30,201.80 288.80,201.50 289.30,202.27 289.80,201.73 290.30,202.47 290.80,202.39 291.30,202.19 291.80,201.00 292.30,201.97 292.80,202.20 293.30,202.26 293.80,201.42 294.30,201.93 294.80,201.67 295.30,201.74 295.80,202.66 296.30,201.72 296.80,202.10 297.30,202.55 297.80,201.81 298.30,202.04 298.80,202.14 299.30,202.12 299.80,201.47 300.30,202.12 300.80,202.76 301.30,201.30 301.80,202.51 302.30,202.14 302.80,201.76 303.30,203.08 303.80,202.47 304.30,201.49 304.80,202.13 305.30,202.39 305.80,202.01 306.30,202.45 306.80,202.08 307.30,202.46 307.80,202.85 308.30,201.80 308.80,202.25 309.30,201.93 309.80,202.23 310.30,201.58 310.80,201.90 311.30,202.10 311.80,202.65 312.30,202.79 312.80,201.56 313.30,201.84 313.80,202.57 314.30,201.26 314.80,202.03 315.30,202.23 315.80,202.92 316.30,202.64 316.80,202.14 317.30,202.13 317.80,202.20 318.30,203.10 318.80,202.13 319.30,202.20 319.80,202.54 320.30,202.31 320.80,202.28 321.30,201.83 321.80,202.39 322.30,202.18 322.80,202.99 323.30,202.74 323.80,202.40 324.30,202.75 324.80,202.25 325.30,202.95 325.80,202.43 326.30,202.72 326.80,201.78 327.30,202.60 327.80,201.58 328.30,201.41 328.80,202.27 329.30,201.97 329.80,202.50 330.30,203.53 330.80,201.99 331.30,202.08 331.80,202.49 332.30,202.62 332.80,202.28 333.30,202.25 333.80,202.69 334.30,202.59 334.80,201.79 335.30,202.25 335.80,202.29 336.30,201.73 336.80,202.36 337.30,201.78 337.80,202.67 338.30,202.26 338.80,202.18 339.30,201.81 339.80,202.01 340.30,201.04 340.80,201.44 341.30,202.15 341.80,200.87 342.30,202.32 342.80,200.98 343.30,202.19 343.80,201.35 344.30,202.11 344.80,201.74 345.30,200.86 345.80,202.20 346.30,202.24 346.80,201.43 347.30,201.27 347.80,201.26 348.30,200.79 348.80,201.77 349.30,200.88 349.80,201.06 350.30,200.61 350.80,200.62 351.30,200.22 351.80,201.41 352.30,200.62 352.80,201.10 353.30,200.54 353.80,200.10 354.30,200.19 354.80,199.98 355.30,200.17 355.80,199.88 356.30,199.82 356.80,199.18 357.30,199.35 357.80,200.48 358.30,199.20 358.80,198.90 359.30,199.47 359.80,199.89 360.30,198.34 360.80,198.83 361.30,198.49 361.80,197.80 362.30,198.91 362.80,198.39 363.30,198.30 363.80,197.74 364.30,198.20 364.80,197.55 365.30,197.59 365.80,196.96 366.30,196.74 366.80,197.85 367.30,196.77 367.80,196.99 368.30,196.66 368.80,196.28 369.30,196.06 369.80,196.45 370.30,195.80 370.80,195.68 371.30,195.57 371.80,195.95 372.30,195.50 372.80,195.15 373.30,194.46 373.80,193.84 374.30,194.79 374.80,194.58 375.30,193.80 375.80,193.91 376.30,193.79 376.80,193.57 377.30,193.37 377.80,192.42 378.30,193.14 378.80,191.49 379.30,192.26 379.80,191.79 380.30,191.68 380.80,191.87 381.30,191.35 381.80,189.70 382.30,189.08 382.80,189.97 383.30,188.68 383.80,188.80 384.30,188.83 384.80,187.17 385.30,186.51 385.80,187.24 386.30,186.67 386.80,186.05 387.30,185.70 387.80,184.73 388.30,183.87 388.80,183.99 389.30,183.02 389.80,182.09 390.30,182.55 390.80,181.64 391.30,181.21 391.80,179.84 392.30,179.31 392.80,178.41 393.30,177.72 393.80,177.49 394.30,176.20 394.80,175.95 395.30,175.10 395.80,175.07 396.30,172.46 396.80,172.68 397.30,171.26 397.80,170.34 398.30,168.66 398.80,168.18 399.30,167.80 399.80,166.39 400.30,165.48 400.80,164.30 401.30,164.03 401.80,162.46 402.30,160.38 402.80,160.16 403.30,158.54 403.80,156.93 404.30,157.32 404.80,157.29 405.30,155.68 405.80,154.11 406.30,153.27 406.80,153.35 407.30,151.91 407.80,150.90 408.30,149.90 408.80,149.00 409.30,148.43 409.80,147.36 410.30,146.25 410.80,144.69 411.30,144.55 411.80,143.05 412.30,143.05 412.80,140.99 413.30,140.70 413.80,139.94 414.30,138.47 414.80,139.22 415.30,138.33 415.80,136.65 416.30,136.59 416.80,135.74 417.30,133.63 417.80,134.49 418.30,133.80 418.80,133.38 419.30,132.34 419.80,132.32 420.30,131.99 420.80,132.32 421.30,131.58 421.80,131.13 422.30,131.65 422.80,130.40 423.30,130.30 423.80,129.44 424.30,131.02 424.80,130.64 425.30,130.56 425.80,130.41 426.30,130.14 426.80,130.23 427.30,130.07 427.80,130.18 428.30,130.43 428.80,131.31 429.30,131.01 429.80,130.90 430.30,130.87 430.80,131.09 431.30,132.48 431.80,132.23 432.30,132.33 432.80,132.47 433.30,132.46 433.80,133.37 434.30,134.24 434.80,134.04 435.30,134.57 435.80,135.04 436.30,135.69 436.80,135.35 437.30,136.55 437.80,136.78 438.30,138.20 438.80,137.95 439.30,139.20 439.80,140.27 440.30,139.95 440.80,140.42 441.30,141.42 441.80,141.94 442.30,142.06 442.80,143.40 443.30,144.79 443.80,144.26 444.30,144.88 444.80,145.05 445.30,146.31 445.80,146.09 446.30,146.71 446.80,148.44 447.30,147.87 447.80,149.37 448.30,150.08 448.80,149.93 449.30,150.54 449.80,151.69 450.30,151.06 450.80,151.29 451.30,151.33 451.80,152.44 452.30,153.56 452.80,153.69 453.30,153.12 453.80,153.54 454.30,154.09 454.80,154.85 455.30,154.95 455.80,155.51 456.30,155.90 456.80,155.94 457.30,156.40 457.80,156.86 458.30,157.04 458.80,157.66 459.30,158.67 459.80,158.35 460.30,158.39 460.80,157.83 461.30,159.18 461.80,158.32 462.30,158.89 462.80,160.32 463.30,160.54 463.80,160.41 464.30,159.92 464.80,160.87 465.30,161.00 465.80,161.94 466.30,163.02 466.80,162.28 467.30,162.05 467.80,162.12 468.30,162.94 468.80,163.14 469.30,162.91 469.80,163.80 470.30,163.42 470.80,164.80 471.30,165.02 471.80,165.28 472.30,164.74 472.80,165.47 473.30,165.38 473.80,165.48 474.30,165.74 474.80,165.48 475.30,165.63 475.80,166.97 476.30,166.69 476.80,167.11 477.30,167.72 477.80,166.56 478.30,167.24 478.80,167.92 479.30,168.23 479.80,168.04 480.30,168.94 480.80,168.72 481.30,168.20 481.80,168.52 482.30,169.58 482.80,169.59 483.30,168.58 483.80,170.38 484.30,170.18 484.80,170.72 485.30,170.03 485.80,170.24 486.30,169.99 486.80,171.98 487.30,170.78 487.80,171.82 488.30,170.85 488.80,171.41 489.30,170.64 489.80,171.43 490.30,172.25 490.80,171.28 491.30,172.58 491.80,172.34 492.30,171.79 492.80,172.19 493.30,172.34 493.80,172.67 494.30,172.55 494.80,172.53 495.30,172.91 495.80,172.66 496.30,172.64 496.80,173.38 497.30,173.95 497.80,172.86 498.30,173.73 498.80,173.50 499.30,173.44 499.80,174.46 500.30,173.87 500.80,174.97 501.30,173.93 501.80,174.60 502.30,174.38 502.80,174.20 503.30,174.96 503.80,174.67" fill="none" stroke="#000000" stroke-width="3.0" stroke-linejoin="round" stroke-linecap="round"/>
</g>
<rect x="278.8" y="3.2" width="225.25" height="220.15" fill="none" stroke="#000" stroke-width="1.9"/>
<path d="M298.20,223.35v-7.5M298.20,3.2v7.5M329.80,223.35v-4.2M329.80,3.2v4.2M361.40,223.35v-7.5M361.40,3.2v7.5M393.00,223.35v-4.2M393.00,3.2v4.2M424.60,223.35v-7.5M424.60,3.2v7.5M456.20,223.35v-4.2M456.20,3.2v4.2M487.80,223.35v-7.5M487.80,3.2v7.5" stroke="#000" stroke-width="1.7" fill="none"/>
<path d="M278.8,6.00h4.2M504.05,6.00h-4.2M278.8,20.07h7.5M504.05,20.07h-7.5M278.8,34.14h4.2M504.05,34.14h-4.2M278.8,48.21h7.5M504.05,48.21h-7.5M278.8,62.28h4.2M504.05,62.28h-4.2M278.8,76.35h7.5M504.05,76.35h-7.5M278.8,90.42h4.2M504.05,90.42h-4.2M278.8,104.49h7.5M504.05,104.49h-7.5M278.8,118.56h4.2M504.05,118.56h-4.2M278.8,132.63h7.5M504.05,132.63h-7.5M278.8,146.70h4.2M504.05,146.70h-4.2M278.8,160.77h7.5M504.05,160.77h-7.5M278.8,174.84h4.2M504.05,174.84h-4.2M278.8,188.91h7.5M504.05,188.91h-7.5M278.8,202.98h4.2M504.05,202.98h-4.2M278.8,217.05h7.5M504.05,217.05h-7.5" stroke="#000" stroke-width="1.7" fill="none"/>
<g clip-path="url(#cc)">
<polyline points="23.20,324.07 23.70,324.14 24.20,324.84 24.70,324.64 25.20,324.89 25.70,324.26 26.20,324.75 26.70,324.23 27.20,324.36 27.70,324.60 28.20,324.94 28.70,325.09 29.20,325.20 29.70,325.23 30.20,324.96 30.70,324.52 31.20,324.06 31.70,324.66 32.20,324.81 32.70,325.00 33.20,324.48 33.70,324.18 34.20,324.36 34.70,324.27 35.20,324.39 35.70,323.78 36.20,323.95 36.70,323.67 37.20,324.20 37.70,324.43 38.20,324.18 38.70,324.45 39.20,324.30 39.70,324.48 40.20,323.90 40.70,323.60 41.20,323.90 41.70,324.02 42.20,324.40 42.70,324.61 43.20,325.20 43.70,325.65 44.20,325.24 44.70,324.60 45.20,324.43 45.70,324.60 46.20,325.26 46.70,324.95 47.20,325.20 47.70,325.10 48.20,325.30 48.70,325.08 49.20,324.92 49.70,324.75 50.20,324.65 50.70,324.79 51.20,324.54 51.70,324.96 52.20,324.58 52.70,324.99 53.20,324.38 53.70,324.28 54.20,324.52 54.70,324.36 55.20,323.95 55.70,323.01 56.20,322.86 56.70,323.71 57.20,323.74 57.70,323.76 58.20,322.27 58.70,321.40 59.20,319.80 59.70,318.21 60.20,314.20 60.70,308.92 61.20,301.55 61.70,293.12 62.20,283.97 62.70,275.52 63.20,269.36 63.70,267.97 64.20,271.33 64.70,278.58 65.20,286.40 65.70,295.18 66.20,302.87 66.70,309.52 67.20,313.80 67.70,316.45 68.20,318.21 68.70,318.82 69.20,319.63 69.70,319.82 70.20,320.22 70.70,320.84 71.20,321.14 71.70,321.32 72.20,321.12 72.70,321.39 73.20,321.37 73.70,321.50 74.20,321.58 74.70,321.86 75.20,322.15 75.70,322.15 76.20,323.07 76.70,323.63 77.20,324.07 77.70,323.56 78.20,323.93 78.70,323.99 79.20,324.08 79.70,323.62 80.20,323.70 80.70,324.25 81.20,324.24 81.70,324.86 82.20,324.26 82.70,324.55 83.20,323.70 83.70,324.59 84.20,324.36 84.70,324.71 85.20,324.51 85.70,325.06 86.20,324.81 86.70,324.50 87.20,323.78 87.70,324.22 88.20,324.37 88.70,324.75 89.20,324.58 89.70,324.56 90.20,324.52 90.70,324.95 91.20,325.59 91.70,325.30 92.20,325.17 92.70,324.65 93.20,325.44 93.70,325.24 94.20,325.38 94.70,324.97 95.20,325.51 95.70,325.63 96.20,325.94 96.70,325.87 97.20,325.80 97.70,325.41 98.20,325.50 98.70,325.68 99.20,326.11 99.70,326.24 100.20,326.52 100.70,326.23 101.20,325.70 101.70,325.78 102.20,326.52 102.70,326.52 103.20,325.68 103.70,325.04 104.20,325.09 104.70,324.94 105.20,325.11 105.70,324.85 106.20,324.93 106.70,325.16 107.20,325.30 107.70,325.61 108.20,325.48 108.70,325.90 109.20,325.78 109.70,325.56 110.20,325.03 110.70,325.62 111.20,325.76 111.70,325.64 112.20,325.07 112.70,325.05 113.20,325.49 113.70,326.00 114.20,326.16 114.70,325.82 115.20,325.20 115.70,324.37 116.20,324.56 116.70,324.59 117.20,325.73 117.70,325.63 118.20,324.89 118.70,323.79 119.20,323.67 119.70,323.73 120.20,323.32 120.70,322.57 121.20,321.99 121.70,320.56 122.20,318.12 122.70,315.52 123.20,312.71 123.70,310.98 124.20,310.12 124.70,311.58 125.20,314.48 125.70,317.14 126.20,319.71 126.70,321.45 127.20,322.93 127.70,323.66 128.20,323.44 128.70,324.09 129.20,324.41 129.70,324.82 130.20,323.87 130.70,323.16 131.20,323.28 131.70,324.18 132.20,324.41 132.70,324.28 133.20,323.32 133.70,322.87 134.20,322.16 134.70,322.11 135.20,321.33 135.70,321.24 136.20,321.17 136.70,321.02 137.20,320.18 137.70,319.86 138.20,320.11 138.70,320.02 139.20,320.45 139.70,321.03 140.20,321.95 140.70,322.69 141.20,323.00 141.70,323.21 142.20,322.86 142.70,322.71 143.20,322.88 143.70,323.11 144.20,323.36 144.70,323.54 145.20,323.99 145.70,324.46 146.20,324.88 146.70,324.56 147.20,324.47 147.70,324.69 148.20,324.54 148.70,324.96 149.20,324.26 149.70,324.20 150.20,323.27 150.70,323.51 151.20,323.83 151.70,324.78 152.20,324.80 152.70,324.77 153.20,324.36 153.70,324.46 154.20,324.23 154.70,324.48 155.20,324.29 155.70,324.77 156.20,324.84 156.70,325.21 157.20,324.90 157.70,324.48 158.20,325.23 158.70,325.13 159.20,326.00 159.70,325.61 160.20,325.89 160.70,325.05 161.20,325.17 161.70,325.77 162.20,325.82 162.70,325.39 163.20,325.16 163.70,325.52 164.20,326.18 164.70,325.67 165.20,325.70 165.70,324.70 166.20,325.47 166.70,325.06 167.20,324.75 167.70,324.06 168.20,324.22 168.70,325.44 169.20,325.36 169.70,325.38 170.20,324.97 170.70,325.54 171.20,325.52 171.70,325.64 172.20,325.31 172.70,325.23 173.20,324.94 173.70,324.78 174.20,324.59 174.70,324.92 175.20,324.49 175.70,325.11 176.20,325.02 176.70,325.40 177.20,324.82 177.70,324.45 178.20,324.61 178.70,325.06 179.20,325.20 179.70,325.34 180.20,324.94 180.70,324.91 181.20,324.13 181.70,324.51 182.20,324.46 182.70,324.79 183.20,324.89 183.70,325.02 184.20,324.27 184.70,323.91 185.20,323.23 185.70,324.35 186.20,325.00 186.70,325.16 187.20,324.71 187.70,323.72 188.20,323.81 188.70,323.81 189.20,324.12 189.70,323.59 190.20,323.77 190.70,322.99 191.20,323.24 191.70,322.93 192.20,323.18 192.70,322.45 193.20,321.33 193.70,320.13 194.20,319.14 194.70,317.92 195.20,315.32 195.70,312.59 196.20,309.22 196.70,306.70 197.20,304.49 197.70,304.21 198.20,305.55 198.70,308.40 199.20,311.39 199.70,314.97 200.20,316.90 200.70,319.30 201.20,320.31 201.70,321.95 202.20,322.06 202.70,322.11 203.20,322.46 203.70,322.83 204.20,323.76 204.70,323.61 205.20,324.41 205.70,324.52 206.20,325.08 206.70,324.64 207.20,324.54 207.70,324.47 208.20,324.71 208.70,325.12 209.20,325.55 209.70,325.38 210.20,325.35 210.70,325.16 211.20,325.64 211.70,326.29 212.20,326.76 212.70,326.62 213.20,325.58 213.70,324.96 214.20,324.55 214.70,325.25 215.20,325.44 215.70,325.96 216.20,325.54 216.70,325.79 217.20,326.18 217.70,326.16 218.20,326.02 218.70,325.34 219.20,325.80 219.70,325.58 220.20,325.48 220.70,324.79 221.20,324.67 221.70,325.14 222.20,326.32 222.70,326.44 223.20,326.58 223.70,325.89 224.20,325.86 224.70,325.49 225.20,325.35 225.70,325.48 226.20,326.15 226.70,325.65 227.20,325.98 227.70,325.51 228.20,325.91 228.70,325.85 229.20,326.03 229.70,326.26 230.20,326.35 230.70,326.31 231.20,325.67 231.70,326.00 232.20,326.49 232.70,327.41 233.20,327.29 233.70,326.20 234.20,325.89 234.70,325.36 235.20,325.63 235.70,325.98 236.20,326.00 236.70,326.16 237.20,325.33 237.70,325.54 238.20,325.64 238.70,326.02 239.20,325.88 239.70,326.45 240.20,326.33 240.70,326.26 241.20,325.48 241.70,326.23 242.20,327.21 242.70,327.59 243.20,327.05 243.70,326.32 244.20,326.58 244.70,326.56 245.20,327.16 245.70,326.88" fill="none" stroke="#DC18DC" stroke-width="1.8" stroke-linejoin="round" stroke-linecap="round"/>
<polyline points="23.20,364.76 23.70,364.84 24.20,364.92 24.70,364.99 25.20,365.07 25.70,365.14 26.20,365.21 26.70,365.28 27.20,365.35 27.70,365.42 28.20,365.48 28.70,365.54 29.20,365.60 29.70,365.66 30.20,365.72 30.70,365.78 31.20,365.84 31.70,365.89 32.20,365.94 32.70,365.99 33.20,366.04 33.70,366.09 34.20,366.13 34.70,366.18 35.20,366.22 35.70,366.26 36.20,366.30 36.70,366.34 37.20,366.38 37.70,366.41 38.20,366.45 38.70,366.48 39.20,366.51 39.70,366.54 40.20,366.57 40.70,366.59 41.20,366.62 41.70,366.64 42.20,366.66 42.70,366.68 43.20,366.70 43.70,366.71 44.20,366.72 44.70,366.74 45.20,366.75 45.70,366.75 46.20,366.76 46.70,366.77 47.20,366.77 47.70,366.77 48.20,366.76 48.70,366.76 49.20,366.75 49.70,366.74 50.20,366.72 50.70,366.70 51.20,366.68 51.70,366.65 52.20,366.62 52.70,366.58 53.20,366.53 53.70,366.47 54.20,366.41 54.70,366.33 55.20,366.24 55.70,366.12 56.20,365.98 56.70,365.81 57.20,365.57 57.70,365.25 58.20,364.74 58.70,363.89 59.20,362.47 59.70,360.23 60.20,356.87 60.70,352.12 61.20,345.92 61.70,338.49 62.20,330.51 62.70,323.16 63.20,318.00 63.70,316.55 64.20,319.20 64.70,324.97 65.20,332.25 65.70,339.61 66.20,346.10 66.70,351.24 67.20,354.97 67.70,357.47 68.20,359.04 68.70,359.99 69.20,360.58 69.70,360.98 70.20,361.28 70.70,361.54 71.20,361.79 71.70,362.03 72.20,362.28 72.70,362.53 73.20,362.77 73.70,363.02 74.20,363.26 74.70,363.49 75.20,363.72 75.70,363.93 76.20,364.13 76.70,364.30 77.20,364.45 77.70,364.59 78.20,364.72 78.70,364.85 79.20,364.98 79.70,365.10 80.20,365.22 80.70,365.34 81.20,365.45 81.70,365.56 82.20,365.66 82.70,365.76 83.20,365.85 83.70,365.95 84.20,366.03 84.70,366.12 85.20,366.19 85.70,366.27 86.20,366.35 86.70,366.43 87.20,366.51 87.70,366.59 88.20,366.67 88.70,366.75 89.20,366.83 89.70,366.91 90.20,366.99 90.70,367.06 91.20,367.13 91.70,367.21 92.20,367.28 92.70,367.34 93.20,367.41 93.70,367.47 94.20,367.53 94.70,367.58 95.20,367.64 95.70,367.68 96.20,367.73 96.70,367.77 97.20,367.81 97.70,367.84 98.20,367.87 98.70,367.89 99.20,367.90 99.70,367.92 100.20,367.92 100.70,367.92 101.20,367.92 101.70,367.92 102.20,367.92 102.70,367.92 103.20,367.92 103.70,367.92 104.20,367.92 104.70,367.92 105.20,367.92 105.70,367.92 106.20,367.92 106.70,367.91 107.20,367.91 107.70,367.91 108.20,367.91 108.70,367.90 109.20,367.90 109.70,367.90 110.20,367.89 110.70,367.89 111.20,367.89 111.70,367.88 112.20,367.87 112.70,367.87 113.20,367.86 113.70,367.85 114.20,367.84 114.70,367.83 115.20,367.81 115.70,367.80 116.20,367.78 116.70,367.75 117.20,367.72 117.70,367.68 118.20,367.63 118.70,367.57 119.20,367.47 119.70,367.31 120.20,367.02 120.70,366.49 121.20,365.59 121.70,364.17 122.20,362.20 122.70,359.83 123.20,357.50 123.70,355.90 124.20,355.73 124.70,357.06 125.20,359.28 125.70,361.65 126.20,363.69 126.70,365.19 127.20,366.16 127.70,366.71 128.20,367.00 128.70,367.15 129.20,367.21 129.70,367.23 130.20,367.23 130.70,367.20 131.20,367.16 131.70,367.09 132.20,367.00 132.70,366.89 133.20,366.75 133.70,366.59 134.20,366.41 134.70,366.22 135.20,366.02 135.70,365.82 136.20,365.64 136.70,365.50 137.20,365.42 137.70,365.40 138.20,365.46 138.70,365.57 139.20,365.73 139.70,365.91 140.20,366.10 140.70,366.28 141.20,366.46 141.70,366.61 142.20,366.74 142.70,366.86 143.20,366.95 143.70,367.03 144.20,367.09 144.70,367.13 145.20,367.17 145.70,367.19 146.20,367.21 146.70,367.23 147.20,367.24 147.70,367.25 148.20,367.26 148.70,367.27 149.20,367.27 149.70,367.28 150.20,367.29 150.70,367.30 151.20,367.32 151.70,367.34 152.20,367.36 152.70,367.38 153.20,367.41 153.70,367.44 154.20,367.47 154.70,367.50 155.20,367.54 155.70,367.57 156.20,367.61 156.70,367.65 157.20,367.69 157.70,367.73 158.20,367.77 158.70,367.81 159.20,367.85 159.70,367.90 160.20,367.94 160.70,367.98 161.20,368.02 161.70,368.06 162.20,368.10 162.70,368.14 163.20,368.17 163.70,368.21 164.20,368.24 164.70,368.27 165.20,368.30 165.70,368.33 166.20,368.35 166.70,368.37 167.20,368.39 167.70,368.41 168.20,368.42 168.70,368.43 169.20,368.44 169.70,368.44 170.20,368.43 170.70,368.43 171.20,368.43 171.70,368.42 172.20,368.42 172.70,368.41 173.20,368.40 173.70,368.39 174.20,368.38 174.70,368.37 175.20,368.36 175.70,368.35 176.20,368.33 176.70,368.31 177.20,368.30 177.70,368.28 178.20,368.26 178.70,368.24 179.20,368.21 179.70,368.19 180.20,368.16 180.70,368.14 181.20,368.11 181.70,368.08 182.20,368.04 182.70,368.01 183.20,367.97 183.70,367.93 184.20,367.89 184.70,367.85 185.20,367.80 185.70,367.75 186.20,367.65 186.70,367.51 187.20,367.34 187.70,367.16 188.20,366.97 188.70,366.79 189.20,366.64 189.70,366.52 190.20,366.45 190.70,366.37 191.20,366.28 191.70,366.17 192.20,366.00 192.70,365.76 193.20,365.38 193.70,364.80 194.20,363.95 194.70,362.73 195.20,361.12 195.70,359.14 196.20,356.93 196.70,354.81 197.20,353.30 197.70,352.94 198.20,353.91 198.70,355.83 199.20,358.14 199.70,360.38 200.20,362.32 200.70,363.87 201.20,365.02 201.70,365.85 202.20,366.42 202.70,366.82 203.20,367.11 203.70,367.33 204.20,367.51 204.70,367.67 205.20,367.81 205.70,367.95 206.20,368.10 206.70,368.26 207.20,368.42 207.70,368.58 208.20,368.73 208.70,368.86 209.20,368.97 209.70,369.05 210.20,369.11 210.70,369.16 211.20,369.21 211.70,369.25 212.20,369.29 212.70,369.33 213.20,369.37 213.70,369.41 214.20,369.45 214.70,369.49 215.20,369.52 215.70,369.56 216.20,369.59 216.70,369.62 217.20,369.65 217.70,369.68 218.20,369.71 218.70,369.74 219.20,369.77 219.70,369.80 220.20,369.83 220.70,369.85 221.20,369.88 221.70,369.90 222.20,369.93 222.70,369.95 223.20,369.97 223.70,370.00 224.20,370.02 224.70,370.04 225.20,370.06 225.70,370.08 226.20,370.10 226.70,370.12 227.20,370.14 227.70,370.16 228.20,370.17 228.70,370.19 229.20,370.21 229.70,370.22 230.20,370.24 230.70,370.25 231.20,370.27 231.70,370.28 232.20,370.30 232.70,370.31 233.20,370.32 233.70,370.33 234.20,370.34 234.70,370.36 235.20,370.37 235.70,370.38 236.20,370.39 236.70,370.39 237.20,370.40 237.70,370.41 238.20,370.42 238.70,370.43 239.20,370.43 239.70,370.44 240.20,370.45 240.70,370.45 241.20,370.46 241.70,370.46 242.20,370.46 242.70,370.47 243.20,370.47 243.70,370.47 244.20,370.48 244.70,370.48 245.20,370.48 245.70,370.48" fill="none" stroke="#1414C4" stroke-width="1.8" stroke-linejoin="round" stroke-linecap="round"/>
<polyline points="23.20,406.86 23.70,406.90 24.20,406.95 24.70,406.99 25.20,407.04 25.70,407.08 26.20,407.12 26.70,407.16 27.20,407.19 27.70,407.23 28.20,407.27 28.70,407.30 29.20,407.33 29.70,407.37 30.20,407.40 30.70,407.43 31.20,407.46 31.70,407.48 32.20,407.51 32.70,407.54 33.20,407.56 33.70,407.59 34.20,407.61 34.70,407.63 35.20,407.65 35.70,407.67 36.20,407.69 36.70,407.71 37.20,407.72 37.70,407.74 38.20,407.75 38.70,407.77 39.20,407.78 39.70,407.79 40.20,407.80 40.70,407.81 41.20,407.82 41.70,407.83 42.20,407.83 42.70,407.84 43.20,407.84 43.70,407.84 44.20,407.85 44.70,407.85 45.20,407.85 45.70,407.84 46.20,407.84 46.70,407.83 47.20,407.83 47.70,407.82 48.20,407.81 48.70,407.80 49.20,407.78 49.70,407.76 50.20,407.74 50.70,407.72 51.20,407.69 51.70,407.66 52.20,407.62 52.70,407.58 53.20,407.54 53.70,407.48 54.20,407.42 54.70,407.34 55.20,407.25 55.70,407.13 56.20,406.99 56.70,406.82 57.20,406.59 57.70,406.27 58.20,405.77 58.70,404.92 59.20,403.51 59.70,401.29 60.20,397.96 60.70,393.27 61.20,387.12 61.70,379.77 62.20,371.88 62.70,364.59 63.20,359.49 63.70,358.05 64.20,360.66 64.70,366.37 65.20,373.57 65.70,380.86 66.20,387.28 66.70,392.37 67.20,396.06 67.70,398.52 68.20,400.08 68.70,401.02 69.20,401.60 69.70,402.00 70.20,402.31 70.70,402.60 71.20,402.88 71.70,403.16 72.20,403.46 72.70,403.76 73.20,404.06 73.70,404.36 74.20,404.66 74.70,404.94 75.20,405.22 75.70,405.47 76.20,405.70 76.70,405.89 77.20,406.06 77.70,406.20 78.20,406.33 78.70,406.45 79.20,406.57 79.70,406.69 80.20,406.80 80.70,406.90 81.20,407.00 81.70,407.09 82.20,407.19 82.70,407.27 83.20,407.36 83.70,407.44 84.20,407.52 84.70,407.60 85.20,407.68 85.70,407.76 86.20,407.84 86.70,407.92 87.20,408.00 87.70,408.08 88.20,408.16 88.70,408.24 89.20,408.32 89.70,408.40 90.20,408.48 90.70,408.56 91.20,408.63 91.70,408.71 92.20,408.78 92.70,408.85 93.20,408.92 93.70,408.98 94.20,409.04 94.70,409.10 95.20,409.15 95.70,409.20 96.20,409.25 96.70,409.29 97.20,409.32 97.70,409.35 98.20,409.38 98.70,409.40 99.20,409.41 99.70,409.42 100.20,409.42 100.70,409.42 101.20,409.42 101.70,409.41 102.20,409.40 102.70,409.39 103.20,409.38 103.70,409.37 104.20,409.35 104.70,409.34 105.20,409.32 105.70,409.30 106.20,409.29 106.70,409.27 107.20,409.24 107.70,409.22 108.20,409.20 108.70,409.18 109.20,409.16 109.70,409.13 110.20,409.11 110.70,409.08 111.20,409.06 111.70,409.04 112.20,409.01 112.70,408.99 113.20,408.96 113.70,408.94 114.20,408.91 114.70,408.88 115.20,408.86 115.70,408.83 116.20,408.80 116.70,408.77 117.20,408.74 117.70,408.70 118.20,408.65 118.70,408.59 119.20,408.50 119.70,408.34 120.20,408.06 120.70,407.55 121.20,406.66 121.70,405.26 122.20,403.31 122.70,400.97 123.20,398.67 123.70,397.09 124.20,396.93 124.70,398.26 125.20,400.47 125.70,402.83 126.20,404.87 126.70,406.36 127.20,407.33 127.70,407.90 128.20,408.20 128.70,408.35 129.20,408.42 129.70,408.46 130.20,408.46 130.70,408.44 131.20,408.41 131.70,408.35 132.20,408.26 132.70,408.16 133.20,408.03 133.70,407.87 134.20,407.69 134.70,407.50 135.20,407.30 135.70,407.10 136.20,406.92 136.70,406.79 137.20,406.71 137.70,406.71 138.20,406.78 138.70,406.91 139.20,407.09 139.70,407.30 140.20,407.51 140.70,407.71 141.20,407.91 141.70,408.08 142.20,408.23 142.70,408.36 143.20,408.47 143.70,408.56 144.20,408.63 144.70,408.68 145.20,408.73 145.70,408.76 146.20,408.79 146.70,408.81 147.20,408.83 147.70,408.84 148.20,408.85 148.70,408.86 149.20,408.87 149.70,408.88 150.20,408.89 150.70,408.90 151.20,408.92 151.70,408.94 152.20,408.97 152.70,408.99 153.20,409.03 153.70,409.06 154.20,409.09 154.70,409.13 155.20,409.17 155.70,409.22 156.20,409.26 156.70,409.30 157.20,409.35 157.70,409.40 158.20,409.45 158.70,409.50 159.20,409.55 159.70,409.59 160.20,409.64 160.70,409.69 161.20,409.74 161.70,409.79 162.20,409.83 162.70,409.88 163.20,409.92 163.70,409.96 164.20,410.00 164.70,410.04 165.20,410.07 165.70,410.11 166.20,410.13 166.70,410.16 167.20,410.18 167.70,410.20 168.20,410.22 168.70,410.23 169.20,410.23 169.70,410.23 170.20,410.23 170.70,410.23 171.20,410.22 171.70,410.21 172.20,410.20 172.70,410.18 173.20,410.16 173.70,410.15 174.20,410.12 174.70,410.10 175.20,410.07 175.70,410.04 176.20,410.01 176.70,409.98 177.20,409.95 177.70,409.91 178.20,409.87 178.70,409.83 179.20,409.79 179.70,409.74 180.20,409.69 180.70,409.65 181.20,409.59 181.70,409.54 182.20,409.49 182.70,409.43 183.20,409.37 183.70,409.31 184.20,409.24 184.70,409.18 185.20,409.11 185.70,409.03 186.20,408.92 186.70,408.77 187.20,408.60 187.70,408.41 188.20,408.23 188.70,408.06 189.20,407.91 189.70,407.80 190.20,407.72 190.70,407.64 191.20,407.55 191.70,407.42 192.20,407.24 192.70,406.98 193.20,406.58 193.70,405.97 194.20,405.06 194.70,403.78 195.20,402.08 195.70,399.99 196.20,397.66 196.70,395.43 197.20,393.83 197.70,393.44 198.20,394.43 198.70,396.43 199.20,398.82 199.70,401.15 200.20,403.17 200.70,404.76 201.20,405.95 201.70,406.79 202.20,407.37 202.70,407.77 203.20,408.05 203.70,408.26 204.20,408.42 204.70,408.55 205.20,408.67 205.70,408.78 206.20,408.88 206.70,408.99 207.20,409.08 207.70,409.18 208.20,409.27 208.70,409.36 209.20,409.44 209.70,409.52 210.20,409.59 210.70,409.65 211.20,409.72 211.70,409.78 212.20,409.84 212.70,409.90 213.20,409.96 213.70,410.02 214.20,410.08 214.70,410.14 215.20,410.20 215.70,410.25 216.20,410.31 216.70,410.36 217.20,410.41 217.70,410.46 218.20,410.51 218.70,410.56 219.20,410.60 219.70,410.64 220.20,410.69 220.70,410.73 221.20,410.76 221.70,410.80 222.20,410.84 222.70,410.87 223.20,410.90 223.70,410.92 224.20,410.95 224.70,410.97 225.20,410.99 225.70,411.02 226.20,411.04 226.70,411.06 227.20,411.08 227.70,411.10 228.20,411.13 228.70,411.15 229.20,411.17 229.70,411.19 230.20,411.21 230.70,411.23 231.20,411.25 231.70,411.27 232.20,411.28 232.70,411.30 233.20,411.32 233.70,411.34 234.20,411.35 234.70,411.37 235.20,411.39 235.70,411.40 236.20,411.42 236.70,411.43 237.20,411.44 237.70,411.46 238.20,411.47 238.70,411.48 239.20,411.49 239.70,411.51 240.20,411.52 240.70,411.52 241.20,411.53 241.70,411.54 242.20,411.55 242.70,411.56 243.20,411.56 243.70,411.57 244.20,411.57 244.70,411.58 245.20,411.58 245.70,411.58" fill="none" stroke="#D81818" stroke-width="1.8" stroke-linejoin="round" stroke-linecap="round"/>
<polyline points="23.20,457.19 23.70,457.57 24.20,457.28 24.70,458.07 25.20,457.27 25.70,457.53 26.20,456.61 26.70,456.80 27.20,456.30 27.70,456.43 28.20,456.36 28.70,455.55 29.20,455.22 29.70,456.48 30.20,458.29 30.70,459.12 31.20,459.02 31.70,457.81 32.20,457.48 32.70,457.06 33.20,456.81 33.70,456.38 34.20,456.31 34.70,456.72 35.20,456.70 35.70,456.87 36.20,456.92 36.70,457.99 37.20,457.81 37.70,457.81 38.20,457.38 38.70,457.31 39.20,457.14 39.70,456.89 40.20,457.37 40.70,458.03 41.20,458.89 41.70,457.68 42.20,457.16 42.70,456.32 43.20,457.26 43.70,457.23 44.20,457.18 44.70,457.49 45.20,457.80 45.70,457.47 46.20,457.75 46.70,458.15 47.20,458.44 47.70,458.17 48.20,457.29 48.70,458.13 49.20,457.58 49.70,457.53 50.20,456.75 50.70,456.45 51.20,456.91 51.70,457.15 52.20,457.50 52.70,457.08 53.20,455.10 53.70,455.06 54.20,454.30 54.70,456.16 55.20,456.56 55.70,457.50 56.20,457.02 56.70,456.14 57.20,455.66 57.70,455.17 58.20,454.35 58.70,452.93 59.20,452.12 59.70,449.72 60.20,446.60 60.70,440.10 61.20,432.55 61.70,422.86 62.20,413.40 62.70,404.71 63.20,398.58 63.70,396.27 64.20,398.83 64.70,406.79 65.20,416.12 65.70,425.59 66.20,433.62 66.70,440.74 67.20,445.82 67.70,448.01 68.20,450.60 68.70,451.71 69.20,452.92 69.70,452.15 70.20,451.62 70.70,450.98 71.20,451.54 71.70,452.70 72.20,453.50 72.70,452.95 73.20,452.26 73.70,452.43 74.20,452.50 74.70,453.85 75.20,454.76 75.70,457.07 76.20,457.22 76.70,456.52 77.20,454.83 77.70,452.83 78.20,452.99 78.70,453.50 79.20,455.87 79.70,456.63 80.20,457.17 80.70,456.95 81.20,457.12 81.70,457.69 82.20,457.19 82.70,456.76 83.20,455.47 83.70,456.93 84.20,457.92 84.70,459.09 85.20,457.77 85.70,457.30 86.20,456.90 86.70,457.63 87.20,457.54 87.70,458.01 88.20,457.86 88.70,458.47 89.20,458.42 89.70,458.55 90.20,458.16 90.70,457.90 91.20,458.53 91.70,458.53 92.20,458.97 92.70,458.44 93.20,457.90 93.70,458.27 94.20,458.00 94.70,459.14 95.20,458.96 95.70,458.71 96.20,457.94 96.70,457.52 97.20,457.97 97.70,457.88 98.20,458.53 98.70,458.84 99.20,459.64 99.70,459.06 100.20,459.34 100.70,458.76 101.20,458.95 101.70,459.07 102.20,459.45 102.70,459.20 103.20,458.33 103.70,458.36 104.20,458.72 104.70,459.09 105.20,458.57 105.70,458.62 106.20,459.93 106.70,460.11 107.20,459.96 107.70,458.85 108.20,457.66 108.70,457.50 109.20,456.90 109.70,458.82 110.20,458.58 110.70,458.48 111.20,457.62 111.70,457.76 112.20,457.79 112.70,457.80 113.20,456.96 113.70,457.05 114.20,457.38 114.70,458.96 115.20,459.34 115.70,459.01 116.20,458.53 116.70,458.61 117.20,459.22 117.70,459.09 118.20,458.44 118.70,457.64 119.20,457.06 119.70,457.07 120.20,456.72 120.70,455.69 121.20,453.56 121.70,451.68 122.20,449.07 122.70,447.77 123.20,445.76 123.70,444.31 124.20,444.42 124.70,446.16 125.20,449.23 125.70,452.06 126.20,454.57 126.70,455.39 127.20,456.01 127.70,455.83 128.20,456.91 128.70,456.98 129.20,456.45 129.70,455.94 130.20,455.04 130.70,454.97 131.20,455.15 131.70,454.75 132.20,454.49 132.70,454.68 133.20,455.21 133.70,455.74 134.20,454.29 134.70,453.71 135.20,453.00 135.70,453.74 136.20,453.63 136.70,454.21 137.20,454.07 137.70,454.35 138.20,453.95 138.70,454.46 139.20,454.39 139.70,455.14 140.20,455.23 140.70,455.75 141.20,455.41 141.70,455.61 142.20,456.20 142.70,456.78 143.20,456.81 143.70,456.83 144.20,456.49 144.70,456.99 145.20,456.58 145.70,455.53 146.20,455.62 146.70,455.74 147.20,456.25 147.70,455.54 148.20,455.11 148.70,456.81 149.20,457.23 149.70,456.96 150.20,456.26 150.70,455.90 151.20,457.72 151.70,457.01 152.20,456.17 152.70,455.34 153.20,455.78 153.70,456.78 154.20,455.77 154.70,456.24 155.20,457.37 155.70,457.57 156.20,458.03 156.70,456.98 157.20,459.18 157.70,458.89 158.20,459.16 158.70,458.62 159.20,458.75 159.70,458.64 160.20,458.53 160.70,458.11 161.20,457.61 161.70,458.37 162.20,458.54 162.70,459.23 163.20,458.48 163.70,457.97 164.20,457.68 164.70,457.35 165.20,457.95 165.70,458.74 166.20,459.62 166.70,459.70 167.20,459.97 167.70,459.75 168.20,459.48 168.70,459.38 169.20,458.62 169.70,459.70 170.20,459.81 170.70,460.28 171.20,459.06 171.70,458.87 172.20,458.46 172.70,459.45 173.20,459.30 173.70,459.24 174.20,459.30 174.70,459.67 175.20,459.73 175.70,459.79 176.20,459.22 176.70,459.29 177.20,458.70 177.70,458.40 178.20,458.26 178.70,458.03 179.20,459.09 179.70,459.97 180.20,459.82 180.70,459.77 181.20,458.90 181.70,459.11 182.20,458.64 182.70,458.70 183.20,459.60 183.70,459.16 184.20,458.30 184.70,457.62 185.20,457.16 185.70,457.47 186.20,455.11 186.70,455.55 187.20,455.80 187.70,457.36 188.20,457.02 188.70,457.15 189.20,456.47 189.70,456.25 190.20,454.93 190.70,454.69 191.20,454.65 191.70,455.10 192.20,454.43 192.70,453.82 193.20,453.11 193.70,452.73 194.20,451.79 194.70,450.29 195.20,448.06 195.70,445.00 196.20,443.54 196.70,441.13 197.20,440.07 197.70,439.11 198.20,441.37 198.70,442.95 199.20,445.23 199.70,447.66 200.20,450.99 200.70,452.69 201.20,453.43 201.70,454.54 202.20,456.12 202.70,457.40 203.20,456.96 203.70,456.90 204.20,457.00 204.70,457.93 205.20,457.27 205.70,457.45 206.20,457.12 206.70,457.36 207.20,457.57 207.70,457.82 208.20,458.31 208.70,458.53 209.20,457.91 209.70,458.17 210.20,458.24 210.70,459.13 211.20,459.73 211.70,458.94 212.20,458.08 212.70,457.68 213.20,458.53 213.70,460.37 214.20,460.58 214.70,459.93 215.20,459.29 215.70,458.57 216.20,458.28 216.70,459.19 217.20,459.79 217.70,460.90 218.20,459.89 218.70,460.64 219.20,460.44 219.70,460.77 220.20,459.37 220.70,458.54 221.20,458.65 221.70,459.92 222.20,460.88 222.70,460.30 223.20,459.66 223.70,459.08 224.20,459.75 224.70,460.02 225.20,460.63 225.70,460.08 226.20,460.30 226.70,460.32 227.20,460.54 227.70,459.46 228.20,459.49 228.70,460.25 229.20,460.61 229.70,460.33 230.20,459.72 230.70,460.50 231.20,460.92 231.70,459.71 232.20,459.52 232.70,458.66 233.20,459.11 233.70,459.18 234.20,459.68 234.70,460.55 235.20,461.90 235.70,462.49 236.20,462.50 236.70,460.54 237.20,459.89 237.70,459.06 238.20,459.30 238.70,459.14 239.20,459.40 239.70,459.63 240.20,459.74 240.70,459.43 241.20,458.92 241.70,459.71 242.20,460.52 242.70,461.79 243.20,462.15 243.70,462.03 244.20,461.92 244.70,460.75 245.20,462.14 245.70,461.88" fill="none" stroke="#000000" stroke-width="1.8" stroke-linejoin="round" stroke-linecap="round"/>
</g>
<rect x="23.2" y="261.75" width="222.95000000000002" height="213.35000000000002" fill="none" stroke="#000" stroke-width="1.9"/>
<path d="M35.00,475.1v-7.5M35.00,261.75v7.5M54.10,475.1v-4.2M54.10,261.75v4.2M73.20,475.1v-7.5M73.20,261.75v7.5M92.30,475.1v-4.2M92.30,261.75v4.2M111.40,475.1v-7.5M111.40,261.75v7.5M130.50,475.1v-4.2M130.50,261.75v4.2M149.60,475.1v-7.5M149.60,261.75v7.5M168.70,475.1v-4.2M168.70,261.75v4.2M187.80,475.1v-7.5M187.80,261.75v7.5M206.90,475.1v-4.2M206.90,261.75v4.2M226.00,475.1v-7.5M226.00,261.75v7.5" stroke="#000" stroke-width="1.7" fill="none"/>
<path d="M23.2,263.40h7.0M246.15,263.40h-7.0M23.2,276.00h4.0M246.15,276.00h-4.0M23.2,288.60h7.0M246.15,288.60h-7.0M23.2,301.20h4.0M246.15,301.20h-4.0M23.2,313.80h7.0M246.15,313.80h-7.0M23.2,326.40h4.0M246.15,326.40h-4.0M23.2,339.00h7.0M246.15,339.00h-7.0M23.2,351.60h4.0M246.15,351.60h-4.0M23.2,364.20h7.0M246.15,364.20h-7.0M23.2,376.80h4.0M246.15,376.80h-4.0M23.2,389.40h7.0M246.15,389.40h-7.0M23.2,402.00h4.0M246.15,402.00h-4.0M23.2,414.60h7.0M246.15,414.60h-7.0M23.2,427.20h4.0M246.15,427.20h-4.0M23.2,439.80h7.0M246.15,439.80h-7.0M23.2,452.40h4.0M246.15,452.40h-4.0M23.2,465.00h7.0M246.15,465.00h-7.0" stroke="#000" stroke-width="1.7" fill="none"/>
<g clip-path="url(#cd)">
<polyline points="278.90,362.21 279.30,361.82 279.70,360.88 280.10,363.29 280.50,362.66 280.90,362.46 281.30,361.79 281.70,364.40 282.10,361.44 282.50,360.82 282.90,363.60 283.30,363.69 283.70,361.89 284.10,358.60 284.50,360.13 284.90,361.77 285.30,360.69 285.70,362.81 286.10,358.24 286.50,361.12 286.90,358.98 287.30,361.71 287.70,359.42 288.10,360.88 288.50,358.17 288.90,356.82 289.30,357.07 289.70,357.62 290.10,356.79 290.50,359.91 290.90,359.91 291.30,358.10 291.70,355.92 292.10,357.08 292.50,356.01 292.90,359.00 293.30,357.06 293.70,357.10 294.10,355.53 294.50,352.88 294.90,354.51 295.30,353.75 295.70,355.74 296.10,355.09 296.50,353.50 296.90,353.87 297.30,356.55 297.70,352.51 298.10,352.32 298.50,353.09 298.90,352.13 299.30,352.27 299.70,353.44 300.10,354.97 300.50,349.43 300.90,351.80 301.30,351.61 301.70,351.14 302.10,350.70 302.50,350.18 302.90,351.91 303.30,349.41 303.70,349.62 304.10,349.51 304.50,349.37 304.90,348.65 305.30,350.09 305.70,348.27 306.10,348.23 306.50,347.57 306.90,345.82 307.30,345.75 307.70,345.10 308.10,346.63 308.50,344.93 308.90,344.07 309.30,345.68 309.70,345.76 310.10,341.98 310.50,346.80 310.90,343.96 311.30,343.39 311.70,344.79 312.10,342.92 312.50,341.54 312.90,345.36 313.30,340.08 313.70,341.16 314.10,342.19 314.50,338.93 314.90,339.99 315.30,340.32 315.70,342.94 316.10,337.59 316.50,338.45 316.90,339.10 317.30,337.81 317.70,335.46 318.10,337.45 318.50,336.56 318.90,336.63 319.30,337.21 319.70,336.58 320.10,335.22 320.50,334.60 320.90,332.01 321.30,332.97 321.70,333.01 322.10,331.58 322.50,331.81 322.90,329.91 323.30,332.91 323.70,333.29 324.10,328.92 324.50,329.54 324.90,328.01 325.30,329.66 325.70,327.81 326.10,326.65 326.50,325.56 326.90,325.44 327.30,323.08 327.70,324.92 328.10,322.14 328.50,323.30 328.90,321.96 329.30,322.66 329.70,320.23 330.10,321.01 330.50,317.29 330.90,318.76 331.30,316.67 331.70,316.44 332.10,315.38 332.50,315.78 332.90,310.42 333.30,313.01 333.70,309.34 334.10,312.44 334.50,306.71 334.90,307.21 335.30,305.25 335.70,309.28 336.10,303.95 336.50,305.13 336.90,303.24 337.30,300.45 337.70,301.76 338.10,302.39 338.50,300.27 338.90,301.12 339.30,298.36 339.70,298.12 340.10,296.77 340.50,297.12 340.90,298.74 341.30,295.75 341.70,294.84 342.10,292.99 342.50,292.19 342.90,294.96 343.30,290.56 343.70,290.37 344.10,291.14 344.50,290.23 344.90,293.43 345.30,286.61 345.70,290.41 346.10,290.69 346.50,287.74 346.90,288.30 347.30,289.82 347.70,291.56 348.10,287.73 348.50,286.79 348.90,290.72 349.30,291.69 349.70,289.09 350.10,286.51 350.50,292.29 350.90,290.14 351.30,292.48 351.70,291.12 352.10,291.05 352.50,291.40 352.90,294.78 353.30,295.24 353.70,290.43 354.10,292.80 354.50,297.47 354.90,294.86 355.30,294.01 355.70,296.70 356.10,297.20 356.50,297.89 356.90,298.01 357.30,298.96 357.70,299.45 358.10,301.34 358.50,300.33 358.90,301.83 359.30,302.76 359.70,305.65 360.10,304.95 360.50,304.93 360.90,306.59 361.30,307.08 361.70,308.78 362.10,308.58 362.50,311.17 362.90,311.15 363.30,309.72 363.70,309.80 364.10,312.38 364.50,312.46 364.90,312.17 365.30,310.71 365.70,310.79 366.10,314.66 366.50,315.89 366.90,316.52 367.30,313.97 367.70,318.03 368.10,316.25 368.50,318.19 368.90,318.79 369.30,317.51 369.70,318.37 370.10,316.69 370.50,318.96 370.90,318.15 371.30,322.03 371.70,321.98 372.10,323.77 372.50,323.44 372.90,322.45 373.30,324.41 373.70,323.79 374.10,325.77 374.50,325.80 374.90,324.31 375.30,326.26 375.70,326.80 376.10,326.70 376.50,328.95 376.90,330.62 377.30,327.94 377.70,328.39 378.10,325.97 378.50,329.57 378.90,329.52 379.30,327.34 379.70,331.42 380.10,332.28 380.50,330.68 380.90,331.62 381.30,331.11 381.70,334.08 382.10,331.04 382.50,333.22 382.90,336.98 383.30,334.49 383.70,335.47 384.10,334.90 384.50,333.71 384.90,335.76 385.30,336.76 385.70,334.95 386.10,337.33 386.50,339.01 386.90,339.07 387.30,335.41 387.70,336.63 388.10,335.99 388.50,340.32 388.90,339.93 389.30,340.37 389.70,338.29 390.10,338.15 390.50,340.30 390.90,340.62 391.30,339.46 391.70,341.23 392.10,342.26 392.50,341.90 392.90,340.26 393.30,338.91 393.70,341.95 394.10,342.84 394.50,342.46 394.90,342.45 395.30,342.30 395.70,344.65 396.10,343.74 396.50,344.24 396.90,342.83 397.30,343.59 397.70,344.99 398.10,343.46 398.50,343.30 398.90,344.91 399.30,347.42 399.70,346.12 400.10,348.23 400.50,346.05 400.90,345.99 401.30,344.57 401.70,345.99 402.10,349.20 402.50,347.74 402.90,348.54 403.30,348.69 403.70,347.80 404.10,347.69 404.50,348.36 404.90,349.37 405.30,349.23 405.70,349.46 406.10,349.13 406.50,347.92 406.90,348.85 407.30,348.00 407.70,351.08 408.10,346.59 408.50,349.58 408.90,353.65 409.30,349.71 409.70,348.68 410.10,350.51 410.50,352.62 410.90,350.60 411.30,351.91 411.70,351.28 412.10,350.72 412.50,356.15 412.90,351.67 413.30,350.90 413.70,351.11 414.10,352.55 414.50,352.73 414.90,353.40 415.30,352.59 415.70,350.36 416.10,353.43 416.50,352.29 416.90,352.45 417.30,350.78 417.70,352.26 418.10,352.15 418.50,353.30 418.90,351.29 419.30,353.66 419.70,353.88 420.10,352.12 420.50,352.97 420.90,352.73 421.30,355.48 421.70,350.43 422.10,353.81 422.50,351.94 422.90,353.88 423.30,355.89 423.70,353.77 424.10,355.02 424.50,353.64 424.90,357.91 425.30,356.46 425.70,356.86 426.10,353.27 426.50,353.69 426.90,357.05 427.30,355.22 427.70,355.20 428.10,356.17 428.50,353.87 428.90,356.98 429.30,355.93 429.70,356.69 430.10,355.04 430.50,356.89 430.90,355.13 431.30,357.69 431.70,358.02 432.10,357.76 432.50,357.23 432.90,357.47 433.30,352.52 433.70,357.89 434.10,356.29 434.50,356.90 434.90,356.39 435.30,354.79 435.70,356.12 436.10,357.97 436.50,359.16 436.90,356.15 437.30,355.78 437.70,359.36 438.10,355.91 438.50,360.39 438.90,357.40 439.30,356.05 439.70,358.89 440.10,360.00 440.50,355.35 440.90,359.88 441.30,357.16 441.70,359.85 442.10,357.09 442.50,355.33 442.90,358.49 443.30,359.16 443.70,360.95 444.10,360.42 444.50,358.91 444.90,357.54 445.30,357.15 445.70,357.52 446.10,356.74 446.50,357.61 446.90,354.23 447.30,358.34 447.70,358.05 448.10,361.97 448.50,359.28 448.90,357.45 449.30,359.04 449.70,356.38 450.10,357.33 450.50,355.46 450.90,360.43 451.30,359.19 451.70,356.55 452.10,358.24 452.50,359.77 452.90,359.11 453.30,358.96 453.70,357.11 454.10,357.46 454.50,358.57 454.90,359.82 455.30,357.21 455.70,356.78 456.10,360.19 456.50,357.09 456.90,360.12 457.30,358.88 457.70,359.84 458.10,361.15 458.50,359.57 458.90,359.71 459.30,357.18 459.70,357.52 460.10,359.54 460.50,360.88 460.90,360.67 461.30,362.07 461.70,359.06 462.10,358.91 462.50,360.12 462.90,358.64 463.30,358.52 463.70,357.05 464.10,360.11 464.50,357.02 464.90,359.40 465.30,356.51 465.70,360.28 466.10,357.10 466.50,359.91 466.90,356.26 467.30,357.99 467.70,360.42 468.10,357.44 468.50,358.76 468.90,357.94 469.30,355.19 469.70,359.12 470.10,359.31 470.50,357.00 470.90,359.52 471.30,357.47 471.70,357.16 472.10,358.68 472.50,357.64 472.90,362.11 473.30,356.34 473.70,359.78 474.10,360.15 474.50,355.70 474.90,356.07 475.30,359.52 475.70,357.95 476.10,359.25 476.50,360.39 476.90,358.12 477.30,357.08 477.70,354.59 478.10,358.99 478.50,357.29 478.90,359.16 479.30,359.04 479.70,356.62 480.10,361.28 480.50,360.32 480.90,359.98 481.30,356.93 481.70,358.10 482.10,357.89 482.50,358.10 482.90,357.04 483.30,359.38 483.70,359.08 484.10,359.29 484.50,357.99 484.90,360.69 485.30,359.04 485.70,354.66 486.10,357.81 486.50,358.70 486.90,360.24 487.30,358.35 487.70,358.43 488.10,357.83 488.50,359.83 488.90,358.17 489.30,357.95 489.70,357.75 490.10,359.71 490.50,358.09 490.90,356.39 491.30,359.85 491.70,357.88 492.10,359.48 492.50,359.52 492.90,360.78 493.30,360.56 493.70,358.15 494.10,358.78 494.50,357.11 494.90,361.59 495.30,359.75 495.70,361.20 496.10,358.65 496.50,356.08 496.90,361.48 497.30,359.34 497.70,359.43 498.10,359.34 498.50,360.25 498.90,360.11 499.30,356.95 499.70,360.99 500.10,358.60 500.50,358.72 500.90,362.05 501.30,360.87 501.70,359.01 502.10,356.77 502.50,359.83 502.90,360.43 503.30,359.54 503.70,357.83" fill="none" stroke="#FF00FF" stroke-width="2.8" stroke-linejoin="round" stroke-linecap="round"/>
<polyline points="283.70,391.16 284.10,391.26 284.50,391.34 284.90,391.41 285.30,391.46 285.70,391.50 286.10,391.53 286.50,391.54 286.90,391.54 287.30,391.53 287.70,391.51 288.10,391.47 288.50,391.42 288.90,391.36 289.30,391.29 289.70,391.21 290.10,391.11 290.50,391.00 290.90,390.88 291.30,390.75 291.70,390.61 292.10,390.46 292.50,390.30 292.90,390.12 293.30,389.94 293.70,389.74 294.10,389.54 294.50,389.33 294.90,389.10 295.30,388.87 295.70,388.63 296.10,388.37 296.50,388.11 296.90,387.84 297.30,387.56 297.70,387.28 298.10,386.98 298.50,386.68 298.90,386.36 299.30,386.04 299.70,385.72 300.10,385.38 300.50,385.04 300.90,384.68 301.30,384.33 301.70,383.96 302.10,383.59 302.50,383.21 302.90,382.82 303.30,382.43 303.70,382.03 304.10,381.63 304.50,381.22 304.90,380.80 305.30,380.38 305.70,379.95 306.10,379.52 306.50,379.08 306.90,378.64 307.30,378.19 307.70,377.74 308.10,377.28 308.50,376.82 308.90,376.36 309.30,375.89 309.70,375.41 310.10,374.94 310.50,374.45 310.90,373.97 311.30,373.48 311.70,372.99 312.10,372.50 312.50,372.00 312.90,371.50 313.30,371.00 313.70,370.50 314.10,369.99 314.50,369.48 314.90,368.97 315.30,368.46 315.70,367.95 316.10,367.44 316.50,366.92 316.90,366.40 317.30,365.89 317.70,365.37 318.10,364.85 318.50,364.33 318.90,363.81 319.30,363.29 319.70,362.77 320.10,362.25 320.50,361.73 320.90,361.21 321.30,360.70 321.70,360.18 322.10,359.66 322.50,359.15 322.90,358.63 323.30,358.12 323.70,357.61 324.10,357.10 324.50,356.60 324.90,356.09 325.30,355.59 325.70,355.09 326.10,354.59 326.50,354.10 326.90,353.61 327.30,353.12 327.70,352.64 328.10,352.16 328.50,351.69 328.90,351.22 329.30,350.76 329.70,350.30 330.10,349.85 330.50,349.40 330.90,348.96 331.30,348.52 331.70,348.10 332.10,347.67 332.50,347.26 332.90,346.85 333.30,346.45 333.70,346.06 334.10,345.68 334.50,345.30 334.90,344.94 335.30,344.58 335.70,344.23 336.10,343.89 336.50,343.57 336.90,343.25 337.30,342.94 337.70,342.64 338.10,342.35 338.50,342.08 338.90,341.81 339.30,341.56 339.70,341.32 340.10,341.09 340.50,340.87 340.90,340.66 341.30,340.47 341.70,340.29 342.10,340.13 342.50,339.98 342.90,339.84 343.30,339.71 343.70,339.61 344.10,339.51 344.50,339.43 344.90,339.37 345.30,339.32 345.70,339.28 346.10,339.26 346.50,339.25 346.90,339.25 347.30,339.27 347.70,339.30 348.10,339.34 348.50,339.40 348.90,339.46 349.30,339.54 349.70,339.64 350.10,339.74 350.50,339.85 350.90,339.98 351.30,340.11 351.70,340.26 352.10,340.42 352.50,340.58 352.90,340.76 353.30,340.95 353.70,341.14 354.10,341.35 354.50,341.56 354.90,341.78 355.30,342.01 355.70,342.25 356.10,342.50 356.50,342.75 356.90,343.01 357.30,343.28 357.70,343.56 358.10,343.84 358.50,344.13 358.90,344.43 359.30,344.73 359.70,345.04 360.10,345.35 360.50,345.67 360.90,345.99 361.30,346.32 361.70,346.65 362.10,346.99 362.50,347.33 362.90,347.67 363.30,348.02 363.70,348.38 364.10,348.73 364.50,349.09 364.90,349.45 365.30,349.81 365.70,350.18 366.10,350.55 366.50,350.92 366.90,351.29 367.30,351.66 367.70,352.03 368.10,352.41 368.50,352.78 368.90,353.16 369.30,353.53 369.70,353.91 370.10,354.28 370.50,354.66 370.90,355.03 371.30,355.40 371.70,355.77 372.10,356.14 372.50,356.51 372.90,356.87 373.30,357.24 373.70,357.60 374.10,357.96 374.50,358.31 374.90,358.66 375.30,359.02 375.70,359.36 376.10,359.71 376.50,360.05 376.90,360.39 377.30,360.73 377.70,361.07 378.10,361.40 378.50,361.74 378.90,362.07 379.30,362.39 379.70,362.72 380.10,363.04 380.50,363.36 380.90,363.68 381.30,363.99 381.70,364.31 382.10,364.62 382.50,364.93 382.90,365.23 383.30,365.54 383.70,365.84 384.10,366.14 384.50,366.44 384.90,366.73 385.30,367.02 385.70,367.31 386.10,367.60 386.50,367.89 386.90,368.17 387.30,368.46 387.70,368.74 388.10,369.01 388.50,369.29 388.90,369.56 389.30,369.84 389.70,370.10 390.10,370.37 390.50,370.64 390.90,370.90 391.30,371.16 391.70,371.42 392.10,371.68 392.50,371.93 392.90,372.19 393.30,372.44 393.70,372.69 394.10,372.93 394.50,373.18 394.90,373.42 395.30,373.66 395.70,373.90 396.10,374.14 396.50,374.37 396.90,374.61 397.30,374.84 397.70,375.07 398.10,375.29 398.50,375.52 398.90,375.74 399.30,375.97 399.70,376.19 400.10,376.40 400.50,376.62 400.90,376.83 401.30,377.05 401.70,377.26 402.10,377.47 402.50,377.67 402.90,377.88 403.30,378.08 403.70,378.28 404.10,378.48 404.50,378.68 404.90,378.88 405.30,379.07 405.70,379.26 406.10,379.45 406.50,379.64 406.90,379.83 407.30,380.02 407.70,380.20 408.10,380.38 408.50,380.57 408.90,380.74 409.30,380.92 409.70,381.10 410.10,381.27 410.50,381.44 410.90,381.62 411.30,381.78 411.70,381.95 412.10,382.12 412.50,382.28 412.90,382.45 413.30,382.61 413.70,382.77 414.10,382.93 414.50,383.08 414.90,383.24 415.30,383.39 415.70,383.54 416.10,383.69 416.50,383.84 416.90,383.99 417.30,384.14 417.70,384.28 418.10,384.42 418.50,384.57 418.90,384.71 419.30,384.85 419.70,384.98 420.10,385.12 420.50,385.25 420.90,385.39 421.30,385.52 421.70,385.65 422.10,385.78 422.50,385.91 422.90,386.03 423.30,386.16 423.70,386.28 424.10,386.40 424.50,386.52 424.90,386.64 425.30,386.76 425.70,386.88 426.10,387.00 426.50,387.11 426.90,387.22 427.30,387.34 427.70,387.45 428.10,387.56 428.50,387.66 428.90,387.77 429.30,387.88 429.70,387.98 430.10,388.09 430.50,388.19 430.90,388.29 431.30,388.39 431.70,388.49 432.10,388.59 432.50,388.68 432.90,388.78 433.30,388.87 433.70,388.96 434.10,389.06 434.50,389.15 434.90,389.24 435.30,389.33 435.70,389.41 436.10,389.50 436.50,389.59 436.90,389.67 437.30,389.75 437.70,389.84 438.10,389.92 438.50,390.00 438.90,390.08 439.30,390.16 439.70,390.23 440.10,390.31 440.50,390.39 440.90,390.46 441.30,390.53 441.70,390.61 442.10,390.68 442.50,390.75 442.90,390.82 443.30,390.89 443.70,390.96 444.10,391.02 444.50,391.09 444.90,391.16 445.30,391.22 445.70,391.29 446.10,391.35 446.50,391.41 446.90,391.47 447.30,391.53 447.70,391.59 448.10,391.65 448.50,391.71 448.90,391.77 449.30,391.82 449.70,391.88 450.10,391.94 450.50,391.99 450.90,392.04 451.30,392.10 451.70,392.15 452.10,392.20 452.50,392.25 452.90,392.30 453.30,392.35 453.70,392.40 454.10,392.45 454.50,392.50 454.90,392.54 455.30,392.59 455.70,392.64 456.10,392.68 456.50,392.72 456.90,392.77 457.30,392.81 457.70,392.85 458.10,392.90 458.50,392.94 458.90,392.98 459.30,393.02 459.70,393.06 460.10,393.10 460.50,393.14 460.90,393.18 461.30,393.22 461.70,393.25 462.10,393.29 462.50,393.33 462.90,393.36 463.30,393.40 463.70,393.43 464.10,393.47 464.50,393.50 464.90,393.54 465.30,393.57 465.70,393.60 466.10,393.64 466.50,393.67 466.90,393.70 467.30,393.73 467.70,393.76 468.10,393.79 468.50,393.83 468.90,393.86 469.30,393.89 469.70,393.92 470.10,393.94 470.50,393.97 470.90,394.00 471.30,394.03 471.70,394.06 472.10,394.09 472.50,394.12 472.90,394.14 473.30,394.17 473.70,394.20 474.10,394.22 474.50,394.25 474.90,394.28 475.30,394.30 475.70,394.33 476.10,394.36 476.50,394.38 476.90,394.41 477.30,394.43 477.70,394.46 478.10,394.48 478.50,394.51 478.90,394.53 479.30,394.56 479.70,394.59 480.10,394.61 480.50,394.63 480.90,394.66 481.30,394.68 481.70,394.71 482.10,394.73 482.50,394.76 482.90,394.78 483.30,394.81 483.70,394.83 484.10,394.86 484.50,394.88 484.90,394.91 485.30,394.93 485.70,394.96 486.10,394.98 486.50,395.01 486.90,395.03 487.30,395.06 487.70,395.08 488.10,395.11 488.50,395.13 488.90,395.16 489.30,395.18 489.70,395.21 490.10,395.24 490.50,395.26 490.90,395.29 491.30,395.32 491.70,395.34 492.10,395.37 492.50,395.40 492.90,395.42 493.30,395.45 493.70,395.48 494.10,395.51 494.50,395.54 494.90,395.56 495.30,395.59 495.70,395.62 496.10,395.65 496.50,395.68 496.90,395.71 497.30,395.74 497.70,395.77 498.10,395.80 498.50,395.83 498.90,395.87 499.30,395.90 499.70,395.93 500.10,395.96 500.50,396.00 500.90,396.03 501.30,396.06 501.70,396.10 502.10,396.13 502.50,396.17 502.90,396.20 503.30,396.24 503.70,396.28" fill="none" stroke="#0000C8" stroke-width="2.2" stroke-linejoin="round" stroke-linecap="round"/>
<polyline points="278.90,421.61 279.30,421.62 279.70,421.63 280.10,421.63 280.50,421.62 280.90,421.61 281.30,421.59 281.70,421.57 282.10,421.54 282.50,421.51 282.90,421.47 283.30,421.43 283.70,421.38 284.10,421.32 284.50,421.26 284.90,421.20 285.30,421.12 285.70,421.05 286.10,420.96 286.50,420.87 286.90,420.78 287.30,420.68 287.70,420.57 288.10,420.46 288.50,420.34 288.90,420.21 289.30,420.08 289.70,419.94 290.10,419.80 290.50,419.65 290.90,419.49 291.30,419.33 291.70,419.16 292.10,418.98 292.50,418.80 292.90,418.61 293.30,418.42 293.70,418.21 294.10,418.00 294.50,417.79 294.90,417.57 295.30,417.34 295.70,417.10 296.10,416.86 296.50,416.61 296.90,416.36 297.30,416.10 297.70,415.83 298.10,415.55 298.50,415.27 298.90,414.98 299.30,414.68 299.70,414.37 300.10,414.06 300.50,413.74 300.90,413.42 301.30,413.08 301.70,412.74 302.10,412.39 302.50,412.04 302.90,411.67 303.30,411.30 303.70,410.92 304.10,410.54 304.50,410.14 304.90,409.74 305.30,409.33 305.70,408.92 306.10,408.49 306.50,408.06 306.90,407.62 307.30,407.17 307.70,406.72 308.10,406.25 308.50,405.78 308.90,405.30 309.30,404.81 309.70,404.32 310.10,403.81 310.50,403.30 310.90,402.78 311.30,402.26 311.70,401.73 312.10,401.19 312.50,400.65 312.90,400.10 313.30,399.54 313.70,398.98 314.10,398.41 314.50,397.84 314.90,397.27 315.30,396.69 315.70,396.11 316.10,395.52 316.50,394.93 316.90,394.34 317.30,393.74 317.70,393.15 318.10,392.55 318.50,391.94 318.90,391.34 319.30,390.73 319.70,390.13 320.10,389.52 320.50,388.91 320.90,388.30 321.30,387.69 321.70,387.08 322.10,386.47 322.50,385.86 322.90,385.25 323.30,384.65 323.70,384.04 324.10,383.44 324.50,382.83 324.90,382.23 325.30,381.64 325.70,381.04 326.10,380.45 326.50,379.86 326.90,379.28 327.30,378.69 327.70,378.12 328.10,377.54 328.50,376.98 328.90,376.41 329.30,375.85 329.70,375.30 330.10,374.75 330.50,374.21 330.90,373.67 331.30,373.15 331.70,372.62 332.10,372.11 332.50,371.60 332.90,371.10 333.30,370.60 333.70,370.12 334.10,369.64 334.50,369.17 334.90,368.71 335.30,368.26 335.70,367.81 336.10,367.38 336.50,366.95 336.90,366.54 337.30,366.13 337.70,365.73 338.10,365.35 338.50,364.97 338.90,364.61 339.30,364.25 339.70,363.91 340.10,363.57 340.50,363.25 340.90,362.94 341.30,362.64 341.70,362.35 342.10,362.08 342.50,361.82 342.90,361.57 343.30,361.33 343.70,361.10 344.10,360.89 344.50,360.69 344.90,360.51 345.30,360.34 345.70,360.18 346.10,360.04 346.50,359.91 346.90,359.79 347.30,359.69 347.70,359.61 348.10,359.54 348.50,359.49 348.90,359.45 349.30,359.42 349.70,359.42 350.10,359.42 350.50,359.45 350.90,359.49 351.30,359.55 351.70,359.62 352.10,359.70 352.50,359.80 352.90,359.92 353.30,360.05 353.70,360.19 354.10,360.35 354.50,360.52 354.90,360.70 355.30,360.89 355.70,361.10 356.10,361.32 356.50,361.55 356.90,361.79 357.30,362.04 357.70,362.30 358.10,362.57 358.50,362.85 358.90,363.14 359.30,363.44 359.70,363.75 360.10,364.07 360.50,364.39 360.90,364.72 361.30,365.06 361.70,365.41 362.10,365.77 362.50,366.13 362.90,366.49 363.30,366.87 363.70,367.25 364.10,367.63 364.50,368.02 364.90,368.41 365.30,368.81 365.70,369.21 366.10,369.62 366.50,370.03 366.90,370.44 367.30,370.86 367.70,371.27 368.10,371.69 368.50,372.11 368.90,372.53 369.30,372.96 369.70,373.38 370.10,373.81 370.50,374.23 370.90,374.66 371.30,375.08 371.70,375.50 372.10,375.93 372.50,376.35 372.90,376.77 373.30,377.18 373.70,377.60 374.10,378.01 374.50,378.42 374.90,378.83 375.30,379.23 375.70,379.64 376.10,380.04 376.50,380.44 376.90,380.83 377.30,381.23 377.70,381.62 378.10,382.01 378.50,382.39 378.90,382.78 379.30,383.16 379.70,383.54 380.10,383.92 380.50,384.29 380.90,384.67 381.30,385.04 381.70,385.41 382.10,385.78 382.50,386.14 382.90,386.50 383.30,386.86 383.70,387.22 384.10,387.58 384.50,387.93 384.90,388.28 385.30,388.63 385.70,388.98 386.10,389.33 386.50,389.67 386.90,390.01 387.30,390.35 387.70,390.69 388.10,391.02 388.50,391.35 388.90,391.69 389.30,392.01 389.70,392.34 390.10,392.66 390.50,392.99 390.90,393.31 391.30,393.63 391.70,393.94 392.10,394.26 392.50,394.57 392.90,394.88 393.30,395.19 393.70,395.49 394.10,395.80 394.50,396.10 394.90,396.40 395.30,396.70 395.70,396.99 396.10,397.29 396.50,397.58 396.90,397.87 397.30,398.16 397.70,398.44 398.10,398.73 398.50,399.01 398.90,399.29 399.30,399.57 399.70,399.85 400.10,400.12 400.50,400.40 400.90,400.67 401.30,400.94 401.70,401.20 402.10,401.47 402.50,401.73 402.90,401.99 403.30,402.25 403.70,402.51 404.10,402.77 404.50,403.02 404.90,403.28 405.30,403.53 405.70,403.78 406.10,404.02 406.50,404.27 406.90,404.51 407.30,404.75 407.70,404.99 408.10,405.23 408.50,405.47 408.90,405.70 409.30,405.94 409.70,406.17 410.10,406.40 410.50,406.63 410.90,406.85 411.30,407.08 411.70,407.30 412.10,407.52 412.50,407.74 412.90,407.96 413.30,408.17 413.70,408.39 414.10,408.60 414.50,408.81 414.90,409.02 415.30,409.23 415.70,409.43 416.10,409.64 416.50,409.84 416.90,410.04 417.30,410.24 417.70,410.44 418.10,410.64 418.50,410.83 418.90,411.02 419.30,411.22 419.70,411.41 420.10,411.59 420.50,411.78 420.90,411.97 421.30,412.15 421.70,412.33 422.10,412.51 422.50,412.69 422.90,412.87 423.30,413.05 423.70,413.22 424.10,413.39 424.50,413.57 424.90,413.74 425.30,413.90 425.70,414.07 426.10,414.24 426.50,414.40 426.90,414.56 427.30,414.73 427.70,414.89 428.10,415.04 428.50,415.20 428.90,415.36 429.30,415.51 429.70,415.66 430.10,415.82 430.50,415.97 430.90,416.11 431.30,416.26 431.70,416.41 432.10,416.55 432.50,416.70 432.90,416.84 433.30,416.98 433.70,417.12 434.10,417.25 434.50,417.39 434.90,417.53 435.30,417.66 435.70,417.79 436.10,417.92 436.50,418.05 436.90,418.18 437.30,418.31 437.70,418.44 438.10,418.56 438.50,418.68 438.90,418.81 439.30,418.93 439.70,419.05 440.10,419.17 440.50,419.28 440.90,419.40 441.30,419.52 441.70,419.63 442.10,419.74 442.50,419.85 442.90,419.96 443.30,420.07 443.70,420.18 444.10,420.29 444.50,420.39 444.90,420.50 445.30,420.60 445.70,420.70 446.10,420.80 446.50,420.90 446.90,421.00 447.30,421.10 447.70,421.20 448.10,421.29 448.50,421.39 448.90,421.48 449.30,421.57 449.70,421.66 450.10,421.75 450.50,421.84 450.90,421.93 451.30,422.02 451.70,422.10 452.10,422.19 452.50,422.27 452.90,422.35 453.30,422.44 453.70,422.52 454.10,422.60 454.50,422.67 454.90,422.75 455.30,422.83 455.70,422.91 456.10,422.98 456.50,423.05 456.90,423.13 457.30,423.20 457.70,423.27 458.10,423.34 458.50,423.41 458.90,423.48 459.30,423.54 459.70,423.61 460.10,423.68 460.50,423.74 460.90,423.81 461.30,423.87 461.70,423.93 462.10,423.99 462.50,424.05 462.90,424.11 463.30,424.17 463.70,424.23 464.10,424.28 464.50,424.34 464.90,424.40 465.30,424.45 465.70,424.50 466.10,424.56 466.50,424.61 466.90,424.66 467.30,424.71 467.70,424.76 468.10,424.81 468.50,424.86 468.90,424.91 469.30,424.95 469.70,425.00 470.10,425.04 470.50,425.09 470.90,425.13 471.30,425.18 471.70,425.22 472.10,425.26 472.50,425.30 472.90,425.34 473.30,425.38 473.70,425.42 474.10,425.46 474.50,425.50 474.90,425.53 475.30,425.57 475.70,425.61 476.10,425.64 476.50,425.67 476.90,425.71 477.30,425.74 477.70,425.77 478.10,425.81 478.50,425.84 478.90,425.87 479.30,425.90 479.70,425.93 480.10,425.96 480.50,425.99 480.90,426.01 481.30,426.04 481.70,426.07 482.10,426.10 482.50,426.12 482.90,426.15 483.30,426.17 483.70,426.20 484.10,426.22 484.50,426.24 484.90,426.27 485.30,426.29 485.70,426.31 486.10,426.33 486.50,426.35 486.90,426.37 487.30,426.39 487.70,426.41 488.10,426.43 488.50,426.45 488.90,426.47 489.30,426.49 489.70,426.51 490.10,426.52 490.50,426.54 490.90,426.56 491.30,426.57 491.70,426.59 492.10,426.60 492.50,426.62 492.90,426.63 493.30,426.65 493.70,426.66 494.10,426.68 494.50,426.69 494.90,426.70 495.30,426.71 495.70,426.73 496.10,426.74 496.50,426.75 496.90,426.76 497.30,426.77 497.70,426.78 498.10,426.80 498.50,426.81 498.90,426.82 499.30,426.83 499.70,426.84 500.10,426.85 500.50,426.85 500.90,426.86 501.30,426.87 501.70,426.88 502.10,426.89 502.50,426.90 502.90,426.91 503.30,426.91 503.70,426.92" fill="none" stroke="#E00000" stroke-width="2.2" stroke-linejoin="round" stroke-linecap="round"/>
<polyline points="278.90,454.99 279.30,453.13 279.70,451.83 280.10,453.52 280.50,450.66 280.90,451.81 281.30,453.49 281.70,452.53 282.10,451.70 282.50,453.28 282.90,450.75 283.30,452.19 283.70,451.11 284.10,450.55 284.50,451.99 284.90,450.10 285.30,453.44 285.70,450.32 286.10,453.28 286.50,449.44 286.90,451.35 287.30,449.05 287.70,448.75 288.10,450.42 288.50,450.92 288.90,448.44 289.30,451.27 289.70,448.76 290.10,449.74 290.50,449.91 290.90,450.04 291.30,447.04 291.70,451.01 292.10,449.61 292.50,448.30 292.90,447.45 293.30,446.51 293.70,446.78 294.10,448.93 294.50,447.73 294.90,446.64 295.30,447.23 295.70,449.60 296.10,447.18 296.50,446.74 296.90,448.91 297.30,447.70 297.70,447.05 298.10,446.11 298.50,444.83 298.90,445.13 299.30,445.80 299.70,445.95 300.10,446.47 300.50,446.54 300.90,445.98 301.30,445.80 301.70,444.15 302.10,442.59 302.50,444.37 302.90,443.66 303.30,443.84 303.70,444.10 304.10,442.74 304.50,442.69 304.90,443.70 305.30,443.75 305.70,442.61 306.10,443.77 306.50,442.69 306.90,441.50 307.30,442.54 307.70,444.51 308.10,441.20 308.50,443.17 308.90,443.17 309.30,443.05 309.70,440.01 310.10,443.14 310.50,440.59 310.90,439.86 311.30,439.61 311.70,440.31 312.10,439.35 312.50,438.78 312.90,440.22 313.30,437.50 313.70,436.79 314.10,438.66 314.50,438.22 314.90,438.34 315.30,435.39 315.70,437.62 316.10,436.54 316.50,437.70 316.90,433.71 317.30,435.08 317.70,434.09 318.10,432.12 318.50,432.76 318.90,434.55 319.30,432.21 319.70,431.47 320.10,432.94 320.50,432.63 320.90,432.17 321.30,429.57 321.70,429.97 322.10,430.80 322.50,428.28 322.90,427.66 323.30,429.04 323.70,429.40 324.10,425.62 324.50,423.34 324.90,424.17 325.30,424.14 325.70,424.62 326.10,424.94 326.50,423.44 326.90,422.17 327.30,422.59 327.70,420.63 328.10,421.10 328.50,419.75 328.90,423.08 329.30,420.18 329.70,417.53 330.10,416.65 330.50,416.63 330.90,414.48 331.30,414.87 331.70,414.14 332.10,415.36 332.50,413.06 332.90,411.88 333.30,410.48 333.70,409.93 334.10,410.51 334.50,409.57 334.90,410.43 335.30,407.55 335.70,408.80 336.10,407.07 336.50,405.99 336.90,402.81 337.30,402.90 337.70,404.57 338.10,404.58 338.50,402.38 338.90,402.28 339.30,400.12 339.70,399.40 340.10,398.31 340.50,399.55 340.90,398.08 341.30,396.69 341.70,395.91 342.10,396.33 342.50,395.43 342.90,393.46 343.30,395.97 343.70,393.71 344.10,392.94 344.50,394.28 344.90,393.35 345.30,391.68 345.70,392.14 346.10,389.97 346.50,390.28 346.90,388.18 347.30,392.23 347.70,388.41 348.10,391.46 348.50,389.64 348.90,389.49 349.30,390.49 349.70,391.14 350.10,391.68 350.50,393.23 350.90,391.72 351.30,392.56 351.70,391.02 352.10,392.86 352.50,392.48 352.90,392.06 353.30,392.84 353.70,393.23 354.10,393.92 354.50,394.56 354.90,393.88 355.30,394.03 355.70,396.26 356.10,393.79 356.50,395.55 356.90,398.64 357.30,394.02 357.70,396.94 358.10,399.10 358.50,396.81 358.90,402.43 359.30,396.74 359.70,402.10 360.10,402.79 360.50,402.56 360.90,401.75 361.30,403.00 361.70,402.06 362.10,404.68 362.50,402.93 362.90,404.52 363.30,406.63 363.70,404.68 364.10,406.16 364.50,407.39 364.90,406.17 365.30,409.77 365.70,409.38 366.10,407.75 366.50,410.11 366.90,409.84 367.30,410.58 367.70,412.06 368.10,411.72 368.50,414.33 368.90,412.92 369.30,415.55 369.70,414.91 370.10,416.59 370.50,415.51 370.90,416.15 371.30,415.96 371.70,418.63 372.10,419.65 372.50,421.65 372.90,421.23 373.30,420.56 373.70,420.58 374.10,421.87 374.50,421.93 374.90,424.28 375.30,424.21 375.70,422.62 376.10,423.34 376.50,426.34 376.90,425.60 377.30,425.47 377.70,427.69 378.10,426.31 378.50,426.94 378.90,427.22 379.30,425.90 379.70,429.77 380.10,427.75 380.50,428.98 380.90,429.22 381.30,431.42 381.70,430.90 382.10,431.42 382.50,429.80 382.90,432.11 383.30,430.84 383.70,433.36 384.10,433.81 384.50,433.71 384.90,436.55 385.30,435.08 385.70,435.50 386.10,435.29 386.50,435.22 386.90,436.93 387.30,437.40 387.70,434.82 388.10,437.94 388.50,437.58 388.90,438.40 389.30,438.09 389.70,436.30 390.10,436.65 390.50,440.50 390.90,438.87 391.30,437.11 391.70,439.47 392.10,438.85 392.50,437.29 392.90,436.98 393.30,438.02 393.70,440.48 394.10,440.30 394.50,440.26 394.90,441.10 395.30,441.67 395.70,438.61 396.10,440.96 396.50,440.50 396.90,440.19 397.30,441.19 397.70,441.86 398.10,441.85 398.50,440.59 398.90,441.91 399.30,445.06 399.70,441.53 400.10,440.92 400.50,443.42 400.90,443.94 401.30,443.93 401.70,442.16 402.10,444.84 402.50,442.83 402.90,442.55 403.30,443.31 403.70,444.04 404.10,445.15 404.50,445.17 404.90,444.52 405.30,445.79 405.70,444.89 406.10,445.99 406.50,443.35 406.90,443.27 407.30,446.20 407.70,443.72 408.10,445.14 408.50,445.50 408.90,445.15 409.30,445.30 409.70,447.63 410.10,443.03 410.50,447.24 410.90,449.04 411.30,446.42 411.70,446.48 412.10,447.48 412.50,448.90 412.90,445.39 413.30,447.02 413.70,446.79 414.10,447.79 414.50,447.41 414.90,448.10 415.30,446.90 415.70,447.56 416.10,446.80 416.50,446.90 416.90,447.62 417.30,447.71 417.70,446.56 418.10,449.94 418.50,447.99 418.90,446.58 419.30,449.65 419.70,447.51 420.10,449.11 420.50,448.56 420.90,448.97 421.30,448.95 421.70,448.14 422.10,448.96 422.50,451.43 422.90,446.38 423.30,449.23 423.70,449.75 424.10,448.04 424.50,447.73 424.90,452.04 425.30,449.08 425.70,452.09 426.10,450.31 426.50,449.83 426.90,450.39 427.30,450.65 427.70,451.37 428.10,450.54 428.50,450.26 428.90,450.37 429.30,451.84 429.70,451.27 430.10,449.15 430.50,449.65 430.90,450.87 431.30,449.79 431.70,450.15 432.10,449.52 432.50,450.41 432.90,451.29 433.30,452.03 433.70,450.91 434.10,453.45 434.50,450.92 434.90,454.90 435.30,452.33 435.70,451.77 436.10,450.63 436.50,447.90 436.90,451.15 437.30,451.60 437.70,453.75 438.10,449.84 438.50,453.83 438.90,451.29 439.30,452.51 439.70,448.64 440.10,451.90 440.50,451.37 440.90,452.65 441.30,451.99 441.70,450.55 442.10,453.10 442.50,452.84 442.90,452.77 443.30,453.31 443.70,453.46 444.10,452.16 444.50,450.59 444.90,450.60 445.30,453.93 445.70,453.20 446.10,452.51 446.50,451.90 446.90,452.50 447.30,452.53 447.70,452.13 448.10,451.74 448.50,455.21 448.90,452.92 449.30,451.96 449.70,451.16 450.10,451.88 450.50,453.65 450.90,453.73 451.30,452.60 451.70,452.95 452.10,452.56 452.50,451.63 452.90,454.55 453.30,453.47 453.70,456.02 454.10,452.18 454.50,452.95 454.90,454.20 455.30,452.88 455.70,451.54 456.10,452.09 456.50,453.38 456.90,453.70 457.30,453.21 457.70,454.55 458.10,454.57 458.50,453.79 458.90,453.46 459.30,453.15 459.70,454.15 460.10,454.61 460.50,453.61 460.90,454.10 461.30,453.20 461.70,451.92 462.10,452.44 462.50,454.58 462.90,454.23 463.30,455.62 463.70,453.81 464.10,454.80 464.50,455.37 464.90,455.00 465.30,453.10 465.70,453.64 466.10,454.04 466.50,452.72 466.90,454.50 467.30,455.18 467.70,453.40 468.10,456.36 468.50,453.67 468.90,453.80 469.30,453.78 469.70,453.23 470.10,454.61 470.50,454.15 470.90,456.14 471.30,454.90 471.70,454.84 472.10,453.95 472.50,452.54 472.90,454.15 473.30,453.26 473.70,455.44 474.10,454.29 474.50,456.34 474.90,455.25 475.30,455.39 475.70,454.68 476.10,454.68 476.50,455.23 476.90,455.58 477.30,453.64 477.70,455.11 478.10,457.68 478.50,454.45 478.90,454.27 479.30,453.77 479.70,452.88 480.10,456.07 480.50,454.74 480.90,455.05 481.30,456.92 481.70,457.74 482.10,453.69 482.50,456.04 482.90,455.55 483.30,455.30 483.70,455.42 484.10,454.84 484.50,456.80 484.90,455.65 485.30,455.35 485.70,456.46 486.10,456.06 486.50,455.56 486.90,455.43 487.30,457.16 487.70,455.69 488.10,455.00 488.50,454.10 488.90,454.74 489.30,453.92 489.70,455.33 490.10,455.54 490.50,452.80 490.90,455.30 491.30,456.09 491.70,455.54 492.10,454.22 492.50,456.91 492.90,454.58 493.30,453.97 493.70,454.18 494.10,455.48 494.50,456.71 494.90,456.96 495.30,455.84 495.70,454.18 496.10,454.86 496.50,454.60 496.90,455.49 497.30,453.61 497.70,455.90 498.10,456.57 498.50,455.65 498.90,456.42 499.30,454.77 499.70,454.18 500.10,455.20 500.50,457.38 500.90,457.27 501.30,455.52 501.70,457.54 502.10,455.75 502.50,457.99 502.90,456.79 503.30,455.70 503.70,457.24" fill="none" stroke="#000000" stroke-width="2.8" stroke-linejoin="round" stroke-linecap="round"/>
</g>
<rect x="278.9" y="262.0" width="225.15000000000003" height="214.2" fill="none" stroke="#000" stroke-width="1.9"/>
<path d="M316.35,476.2v-4.5M316.35,262.0v4.5M353.90,476.2v-8M353.90,262.0v8M391.45,476.2v-4.5M391.45,262.0v4.5M429.00,476.2v-8M429.00,262.0v8M466.55,476.2v-4.5M466.55,262.0v4.5" stroke="#000" stroke-width="1.7" fill="none"/>
<path d="M278.9,274.40h8M504.05,274.40h-8M278.9,290.04h4.5M504.05,290.04h-4.5M278.9,305.68h8M504.05,305.68h-8M278.9,321.32h4.5M504.05,321.32h-4.5M278.9,336.96h8M504.05,336.96h-8M278.9,352.60h4.5M504.05,352.60h-4.5M278.9,368.24h8M504.05,368.24h-8M278.9,383.88h4.5M504.05,383.88h-4.5M278.9,399.52h8M504.05,399.52h-8M278.9,415.16h4.5M504.05,415.16h-4.5M278.9,430.80h8M504.05,430.80h-8M278.9,446.44h4.5M504.05,446.44h-4.5M278.9,462.08h8M504.05,462.08h-8" stroke="#000" stroke-width="1.7" fill="none"/>
<text x="34.86" y="22.50" font-size="17.00" fill="#000" text-anchor="start" id="a_lab" letter-spacing="2.0">a)</text>
<text x="152.06" y="20.00" font-size="13.50" fill="#000" text-anchor="start" id="a_633">633 nm laser</text>
<text x="115.80" y="36.50" font-size="13.50" fill="#000" text-anchor="start" id="a_50nm">50nm ALD on GaTe</text>
<text x="126.58" y="52.80" font-size="13.50" fill="#C028C0" text-anchor="start" id="a_six">six weeks</text>
<text x="125.43" y="104.80" font-size="13.50" fill="#1E1EA0" text-anchor="start" id="a_four">four weeks</text>
<text x="126.09" y="148.75" font-size="13.50" fill="#C02430" text-anchor="start" id="a_week">one week</text>
<text x="131.87" y="198.75" font-size="13.50" fill="#000" text-anchor="start" id="a_day">one day</text>
<text x="13.41" y="235.70" font-size="14.00" fill="#000" text-anchor="start" id="a_t50">50</text>
<text x="47.50" y="235.70" font-size="14.00" fill="#000" text-anchor="start" id="a_t100">100</text>
<text x="84.35" y="235.70" font-size="14.00" fill="#000" text-anchor="start" id="a_t150">150</text>
<text x="120.17" y="235.70" font-size="14.00" fill="#000" text-anchor="start" id="a_t200">200</text>
<text x="157.78" y="235.70" font-size="14.00" fill="#000" text-anchor="start" id="a_t250">250</text>
<text x="194.44" y="235.70" font-size="14.00" fill="#000" text-anchor="start" id="a_t300">300</text>
<text x="231.57" y="235.70" font-size="14.00" fill="#000" text-anchor="start" id="a_t350">350</text>
<text x="59.40" y="253.60" font-size="18.42" fill="#000" text-anchor="start" id="a_title">Raman shift (cm<tspan font-size="11.42" dy="-7.37">-1</tspan><tspan dy="7.37">)</tspan></text>
<text x="471.30" y="29.00" font-size="17.60" fill="#000" text-anchor="start" id="b_lab" letter-spacing="1.8">b)</text>
<text x="290.01" y="21.90" font-size="13.50" fill="#000" text-anchor="start" id="b_633">633 nm laser</text>
<text x="287.62" y="38.60" font-size="13.50" fill="#000" text-anchor="start" id="b_50nm">50nm ALD on GaTe</text>
<text x="293.26" y="84.70" font-size="13.50" fill="#C028C0" text-anchor="start" id="b_six">six weeks</text>
<text x="293.80" y="116.70" font-size="13.50" fill="#1E1EA0" text-anchor="start" id="b_four">four weeks</text>
<text x="292.53" y="157.00" font-size="13.50" fill="#C02430" text-anchor="start" id="b_week">one week</text>
<text x="293.08" y="193.00" font-size="13.50" fill="#000" text-anchor="start" id="b_day">one day</text>
<text x="280.35" y="236.30" font-size="13.90" fill="#000" text-anchor="start" id="b_t152">1.52</text>
<text x="343.27" y="236.30" font-size="13.90" fill="#000" text-anchor="start" id="b_t159">1.59</text>
<text x="407.39" y="236.30" font-size="13.90" fill="#000" text-anchor="start" id="b_t165">1.65</text>
<text x="469.20" y="236.30" font-size="13.90" fill="#000" text-anchor="start" id="b_t171">1.71</text>
<text x="341.82" y="252.80" font-size="18.76" fill="#000" text-anchor="start" id="b_title">Energy (eV)</text>
<text x="27.60" y="283.40" font-size="17.50" fill="#000" text-anchor="start" id="c_lab" letter-spacing="-0.7">c)</text>
<text x="169.89" y="279.80" font-size="11.80" fill="#000" text-anchor="start" id="c_514">514 nm laser</text>
<text x="133.81" y="294.70" font-size="11.80" fill="#000" text-anchor="start" id="c_50nm">50nm ALD on GaSe</text>
<text x="132.91" y="310.90" font-size="11.80" fill="#C028C0" text-anchor="start" id="c_six">six weeks</text>
<text x="132.10" y="355.60" font-size="11.80" fill="#1E1EA0" text-anchor="start" id="c_four">four weeks</text>
<text x="135.04" y="397.50" font-size="11.80" fill="#C02430" text-anchor="start" id="c_week">one week</text>
<text x="137.33" y="447.30" font-size="11.42" fill="#000" text-anchor="start" id="c_day">one day</text>
<text x="24.49" y="488.70" font-size="12.75" fill="#000" text-anchor="start" id="c_t100">100</text>
<text x="62.73" y="488.70" font-size="12.75" fill="#000" text-anchor="start" id="c_t150">150</text>
<text x="101.36" y="488.70" font-size="12.75" fill="#000" text-anchor="start" id="c_t200">200</text>
<text x="140.22" y="488.70" font-size="12.75" fill="#000" text-anchor="start" id="c_t250">250</text>
<text x="178.91" y="488.70" font-size="12.75" fill="#000" text-anchor="start" id="c_t300">300</text>
<text x="216.66" y="488.70" font-size="12.75" fill="#000" text-anchor="start" id="c_t350">350</text>
<text x="68.55" y="507.90" font-size="16.20" fill="#000" text-anchor="start" id="c_title">Raman shift (cm<tspan font-size="10.05" dy="-6.48">-1</tspan><tspan dy="6.48">)</tspan></text>
<text x="301.06" y="286.80" font-size="18.00" fill="#000" text-anchor="start" id="d_lab" letter-spacing="1.3">d)</text>
<text x="404.71" y="284.40" font-size="14.85" fill="#000" text-anchor="start" id="d_514">514 nm laser</text>
<text x="361.52" y="300.10" font-size="14.85" fill="#000" text-anchor="start" id="d_50nm">50 nm ALD on GaSe</text>
<text x="426.87" y="344.90" font-size="14.85" fill="#C028C0" text-anchor="start" id="d_six">six weeks</text>
<text x="423.21" y="380.50" font-size="14.85" fill="#1E1EA0" text-anchor="start" id="d_four">four weeks</text>
<text x="432.45" y="411.80" font-size="14.85" fill="#C02430" text-anchor="start" id="d_week">one week</text>
<text x="441.58" y="443.80" font-size="14.85" fill="#000" text-anchor="start" id="d_day">one day</text>
<text x="261.87" y="492.30" font-size="16.05" fill="#000" text-anchor="start" id="d_t192">1.92</text>
<text x="337.29" y="492.30" font-size="16.05" fill="#000" text-anchor="start" id="d_t198">1.98</text>
<text x="411.72" y="492.30" font-size="16.05" fill="#000" text-anchor="start" id="d_t204">2.04</text>
<text x="486.11" y="492.30" font-size="16.05" fill="#000" text-anchor="start" id="d_t210">2.10</text>
<text x="337.07" y="511.90" font-size="20.41" fill="#000" text-anchor="start" id="d_title">Energy (eV)</text>
<text x="15.50" y="117.90" font-size="18.20" fill="#000" text-anchor="middle" id="a_ylab" transform="rotate(-90 15.50 117.90)">Intensity (a.u.)</text>
<text x="271.30" y="118.92" font-size="18.33" fill="#000" text-anchor="middle" id="b_ylab" transform="rotate(-90 271.30 118.92)">Intensity (a.u.)</text>
<text x="17.50" y="368.00" font-size="16.85" fill="#000" text-anchor="middle" id="c_ylab" transform="rotate(-90 17.50 368.00)">Intensity (a.u.)</text>
<text x="272.10" y="369.46" font-size="20.10" fill="#000" text-anchor="middle" id="d_ylab" transform="rotate(-90 272.10 369.46)">Intensity (a.u.)</text>
<text x="53.00" y="82.11" font-size="10.50" fill="#222" text-anchor="middle" id="a_dw" transform="rotate(-90 53.00 82.11)" textLength="47.59" lengthAdjust="spacingAndGlyphs"><tspan font-family="Liberation Serif">Δω</tspan> (cm<tspan font-size="7.56" dy="-4.20">-1</tspan><tspan dy="4.20">)</tspan></text>
<text x="56.00" y="293.41" font-size="11.50" fill="#222" text-anchor="middle" id="c_dw" transform="rotate(-90 56.00 293.41)" textLength="54.82" lengthAdjust="spacingAndGlyphs"><tspan font-family="Liberation Serif">Δω</tspan> (cm<tspan font-size="8.28" dy="-4.60">-1</tspan><tspan dy="4.60">)</tspan></text>
</svg>
</body></html>
